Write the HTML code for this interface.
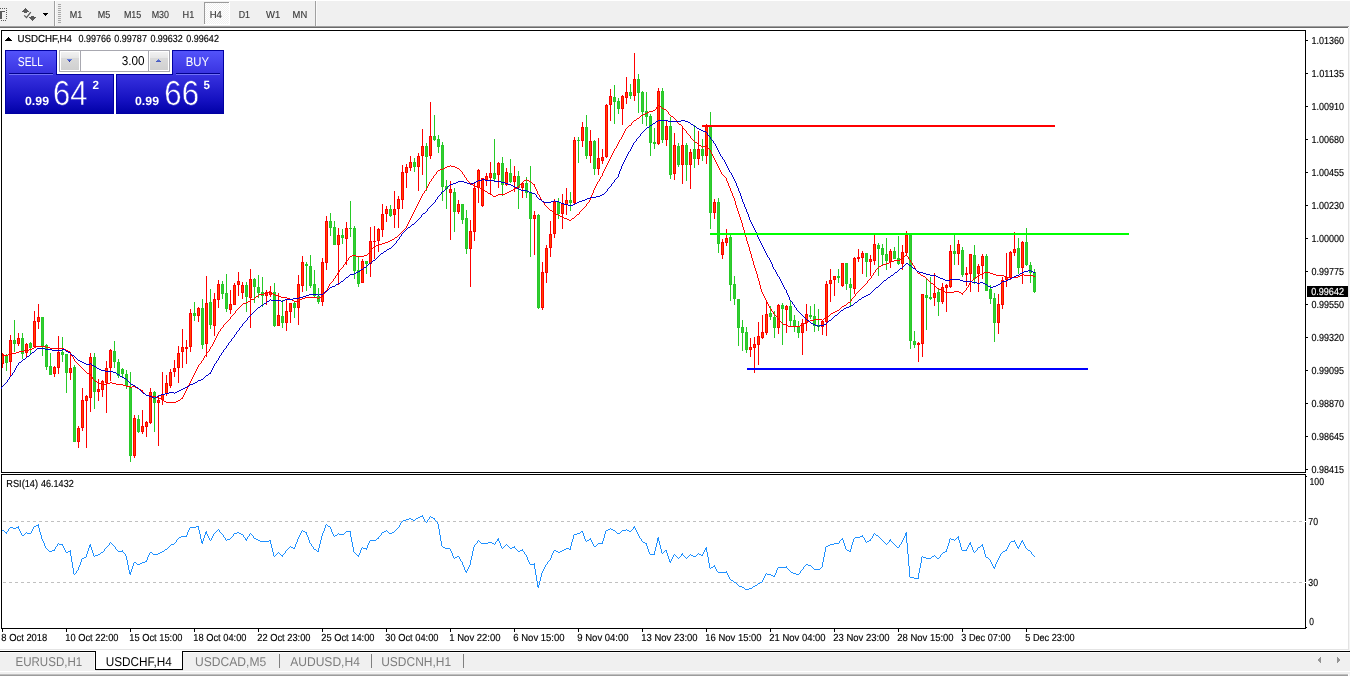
<!DOCTYPE html>
<html lang="en"><head><meta charset="utf-8"><title>USDCHF,H4</title>
<style>
html,body{margin:0;padding:0;background:#fff;overflow:hidden}
body{width:1350px;height:676px;font-family:"Liberation Sans",sans-serif}
svg{display:block;font-family:"Liberation Sans",sans-serif;text-rendering:geometricPrecision}
svg rect,svg polygon{shape-rendering:crispEdges}
</style></head><body>
<svg width="1350" height="676" viewBox="0 0 1350 676">
<rect x="0" y="0" width="1350" height="676" fill="#ffffff" />
<rect x="0" y="1" width="1350" height="25" fill="#f0f0f0" />
<rect x="0" y="26" width="1349" height="1" fill="#a0a0a0" />
<rect x="0" y="27" width="1348" height="1" fill="#696969" />
<rect x="1348" y="28" width="1" height="622" fill="#e3e3e3" />
<rect x="1349" y="26" width="1" height="650" fill="#f4f4f4" />
<rect x="0" y="11" width="5" height="1" fill="#5a5a5a" />
<rect x="0" y="12" width="2" height="7" fill="#5a5a5a" />
<rect x="0" y="8" width="1" height="1" fill="#5a5a5a" />
<rect x="2" y="8" width="1" height="1" fill="#5a5a5a" />
<rect x="4" y="8" width="1" height="1" fill="#5a5a5a" />
<rect x="6" y="8" width="1" height="1" fill="#5a5a5a" />
<rect x="6" y="10" width="1" height="1" fill="#5a5a5a" />
<rect x="6" y="12" width="1" height="1" fill="#5a5a5a" />
<rect x="6" y="14" width="1" height="1" fill="#5a5a5a" />
<rect x="6" y="16" width="1" height="1" fill="#5a5a5a" />
<rect x="6" y="18" width="1" height="1" fill="#5a5a5a" />
<rect x="1" y="20" width="1" height="1" fill="#5a5a5a" />
<rect x="3" y="20" width="1" height="1" fill="#5a5a5a" />
<rect x="5" y="20" width="1" height="1" fill="#5a5a5a" />
<rect x="25" y="8" width="1" height="1" fill="#5a5a5a" />
<rect x="29" y="17" width="7" height="1" fill="#5a5a5a" />
<rect x="24" y="9" width="3" height="1" fill="#5a5a5a" />
<rect x="30" y="18" width="5" height="1" fill="#5a5a5a" />
<rect x="23" y="10" width="5" height="1" fill="#5a5a5a" />
<rect x="31" y="19" width="3" height="1" fill="#5a5a5a" />
<rect x="22" y="11" width="7" height="1" fill="#5a5a5a" />
<rect x="32" y="20" width="1" height="1" fill="#5a5a5a" />
<rect x="24" y="12" width="3" height="1" fill="#5a5a5a" />
<rect x="31" y="16" width="3" height="1" fill="#5a5a5a" />
<path d="M24.2 15.4 L26.5 17.6 L30.8 12.2" fill="none" stroke="#5a5a5a" stroke-width="1.3"/>
<rect x="43" y="13" width="5" height="1" fill="#000" />
<rect x="44" y="14" width="3" height="1" fill="#000" />
<rect x="45" y="15" width="1" height="1" fill="#000" />
<rect x="54" y="1" width="1" height="25" fill="#a0a0a0" />
<rect x="55" y="1" width="1" height="25" fill="#fafafa" />
<rect x="315" y="1" width="1" height="25" fill="#a0a0a0" />
<rect x="316" y="1" width="1" height="25" fill="#fafafa" />
<rect x="58" y="4" width="3" height="1" fill="#a8a8a8" />
<rect x="58" y="6" width="3" height="1" fill="#a8a8a8" />
<rect x="58" y="8" width="3" height="1" fill="#a8a8a8" />
<rect x="58" y="10" width="3" height="1" fill="#a8a8a8" />
<rect x="58" y="12" width="3" height="1" fill="#a8a8a8" />
<rect x="58" y="14" width="3" height="1" fill="#a8a8a8" />
<rect x="58" y="16" width="3" height="1" fill="#a8a8a8" />
<rect x="58" y="18" width="3" height="1" fill="#a8a8a8" />
<rect x="58" y="20" width="3" height="1" fill="#a8a8a8" />
<rect x="58" y="22" width="3" height="1" fill="#a8a8a8" />
<defs><pattern id="ck" x="205" y="3" width="2" height="2" patternUnits="userSpaceOnUse"><rect width="2" height="2" fill="#ffffff"/><rect width="1" height="1" fill="#f0f0f0"/><rect x="1" y="1" width="1" height="1" fill="#f0f0f0"/></pattern></defs>
<rect x="205" y="3" width="24" height="21" fill="url(#ck)" />
<rect x="204" y="2" width="25" height="1" fill="#9a9a9a" />
<rect x="204" y="2" width="1" height="22" fill="#9a9a9a" />
<rect x="204" y="24" width="26" height="1" fill="#ffffff" />
<rect x="229" y="2" width="1" height="23" fill="#ffffff" />
<text x="69.7" y="18" font-size="10.2" fill="#3a3a3a" stroke="#3a3a3a" stroke-width="0.15" textLength="12.5" lengthAdjust="spacingAndGlyphs">M1</text>
<text x="97.7" y="18" font-size="10.2" fill="#3a3a3a" stroke="#3a3a3a" stroke-width="0.15" textLength="12.5" lengthAdjust="spacingAndGlyphs">M5</text>
<text x="123.9" y="18" font-size="10.2" fill="#3a3a3a" stroke="#3a3a3a" stroke-width="0.15" textLength="17.4" lengthAdjust="spacingAndGlyphs">M15</text>
<text x="151.7" y="18" font-size="10.2" fill="#3a3a3a" stroke="#3a3a3a" stroke-width="0.15" textLength="17.3" lengthAdjust="spacingAndGlyphs">M30</text>
<text x="182.6" y="18" font-size="10.2" fill="#3a3a3a" stroke="#3a3a3a" stroke-width="0.15" textLength="11.7" lengthAdjust="spacingAndGlyphs">H1</text>
<text x="209.7" y="18" font-size="10.2" fill="#3a3a3a" stroke="#3a3a3a" stroke-width="0.15" textLength="12.2" lengthAdjust="spacingAndGlyphs">H4</text>
<text x="238.7" y="18" font-size="10.2" fill="#3a3a3a" stroke="#3a3a3a" stroke-width="0.15" textLength="11.3" lengthAdjust="spacingAndGlyphs">D1</text>
<text x="266" y="18" font-size="10.2" fill="#3a3a3a" stroke="#3a3a3a" stroke-width="0.15" textLength="14.2" lengthAdjust="spacingAndGlyphs">W1</text>
<text x="292.6" y="18" font-size="10.2" fill="#3a3a3a" stroke="#3a3a3a" stroke-width="0.15" textLength="14.6" lengthAdjust="spacingAndGlyphs">MN</text>
<rect x="1" y="30" width="1305" height="1" fill="#000000" />
<rect x="1" y="30" width="1" height="443" fill="#000000" />
<rect x="1305" y="30" width="1" height="443" fill="#000000" />
<rect x="1" y="472" width="1305" height="1" fill="#000000" />
<rect x="1" y="474" width="1305" height="1" fill="#000000" />
<rect x="1" y="474" width="1" height="155" fill="#000000" />
<rect x="1305" y="474" width="1" height="155" fill="#000000" />
<rect x="1" y="628" width="1305" height="1" fill="#000000" />
<rect x="1306" y="40" width="2" height="1" fill="#000000" />
<text x="1311.5" y="44" font-size="10.2" fill="#000000" stroke="#000000" stroke-width="0.15" textLength="32.5" lengthAdjust="spacingAndGlyphs">1.01360</text>
<rect x="1306" y="73" width="2" height="1" fill="#000000" />
<text x="1311.5" y="77" font-size="10.2" fill="#000000" stroke="#000000" stroke-width="0.15" textLength="32.5" lengthAdjust="spacingAndGlyphs">1.01135</text>
<rect x="1306" y="106" width="2" height="1" fill="#000000" />
<text x="1311.5" y="110" font-size="10.2" fill="#000000" stroke="#000000" stroke-width="0.15" textLength="32.5" lengthAdjust="spacingAndGlyphs">1.00910</text>
<rect x="1306" y="139" width="2" height="1" fill="#000000" />
<text x="1311.5" y="143" font-size="10.2" fill="#000000" stroke="#000000" stroke-width="0.15" textLength="32.5" lengthAdjust="spacingAndGlyphs">1.00680</text>
<rect x="1306" y="172" width="2" height="1" fill="#000000" />
<text x="1311.5" y="176" font-size="10.2" fill="#000000" stroke="#000000" stroke-width="0.15" textLength="32.5" lengthAdjust="spacingAndGlyphs">1.00455</text>
<rect x="1306" y="205" width="2" height="1" fill="#000000" />
<text x="1311.5" y="209" font-size="10.2" fill="#000000" stroke="#000000" stroke-width="0.15" textLength="32.5" lengthAdjust="spacingAndGlyphs">1.00230</text>
<rect x="1306" y="238" width="2" height="1" fill="#000000" />
<text x="1311.5" y="242" font-size="10.2" fill="#000000" stroke="#000000" stroke-width="0.15" textLength="32.5" lengthAdjust="spacingAndGlyphs">1.00000</text>
<rect x="1306" y="271" width="2" height="1" fill="#000000" />
<text x="1311.5" y="275" font-size="10.2" fill="#000000" stroke="#000000" stroke-width="0.15" textLength="32.5" lengthAdjust="spacingAndGlyphs">0.99775</text>
<rect x="1306" y="304" width="2" height="1" fill="#000000" />
<text x="1311.5" y="308" font-size="10.2" fill="#000000" stroke="#000000" stroke-width="0.15" textLength="32.5" lengthAdjust="spacingAndGlyphs">0.99550</text>
<rect x="1306" y="337" width="2" height="1" fill="#000000" />
<text x="1311.5" y="341" font-size="10.2" fill="#000000" stroke="#000000" stroke-width="0.15" textLength="32.5" lengthAdjust="spacingAndGlyphs">0.99320</text>
<rect x="1306" y="370" width="2" height="1" fill="#000000" />
<text x="1311.5" y="374" font-size="10.2" fill="#000000" stroke="#000000" stroke-width="0.15" textLength="32.5" lengthAdjust="spacingAndGlyphs">0.99095</text>
<rect x="1306" y="403" width="2" height="1" fill="#000000" />
<text x="1311.5" y="407" font-size="10.2" fill="#000000" stroke="#000000" stroke-width="0.15" textLength="32.5" lengthAdjust="spacingAndGlyphs">0.98870</text>
<rect x="1306" y="436" width="2" height="1" fill="#000000" />
<text x="1311.5" y="440" font-size="10.2" fill="#000000" stroke="#000000" stroke-width="0.15" textLength="32.5" lengthAdjust="spacingAndGlyphs">0.98645</text>
<rect x="1306" y="469" width="2" height="1" fill="#000000" />
<text x="1311.5" y="473" font-size="10.2" fill="#000000" stroke="#000000" stroke-width="0.15" textLength="32.5" lengthAdjust="spacingAndGlyphs">0.98415</text>
<rect x="1307" y="286" width="41" height="11" fill="#000000" />
<text x="1311.2" y="295" font-size="10.2" fill="#fff" stroke="#fff" stroke-width="0.15" textLength="32.8" lengthAdjust="spacingAndGlyphs">0.99642</text>
<rect x="1306" y="476" width="1" height="1" fill="#000000" />
<text x="1309.5" y="485" font-size="10.2" fill="#000000" stroke="#000000" stroke-width="0.15" textLength="14.5" lengthAdjust="spacingAndGlyphs">100</text>
<text x="1308.3" y="525" font-size="10.2" fill="#000000" stroke="#000000" stroke-width="0.15" textLength="9.7" lengthAdjust="spacingAndGlyphs">70</text>
<text x="1308.3" y="586" font-size="10.2" fill="#000000" stroke="#000000" stroke-width="0.15" textLength="9.7" lengthAdjust="spacingAndGlyphs">30</text>
<text x="1309.3" y="625" font-size="10.2" fill="#000000" stroke="#000000" stroke-width="0.15" textLength="4.7" lengthAdjust="spacingAndGlyphs">0</text>
<rect x="1306" y="627" width="1" height="1" fill="#000000" />
<path d="M3 521h3v1h-3zM9 521h3v1h-3zM15 521h3v1h-3zM21 521h3v1h-3zM27 521h3v1h-3zM33 521h3v1h-3zM39 521h3v1h-3zM45 521h3v1h-3zM51 521h3v1h-3zM57 521h3v1h-3zM63 521h3v1h-3zM69 521h3v1h-3zM75 521h3v1h-3zM81 521h3v1h-3zM87 521h3v1h-3zM93 521h3v1h-3zM99 521h3v1h-3zM105 521h3v1h-3zM111 521h3v1h-3zM117 521h3v1h-3zM123 521h3v1h-3zM129 521h3v1h-3zM135 521h3v1h-3zM141 521h3v1h-3zM147 521h3v1h-3zM153 521h3v1h-3zM159 521h3v1h-3zM165 521h3v1h-3zM171 521h3v1h-3zM177 521h3v1h-3zM183 521h3v1h-3zM189 521h3v1h-3zM195 521h3v1h-3zM201 521h3v1h-3zM207 521h3v1h-3zM213 521h3v1h-3zM219 521h3v1h-3zM225 521h3v1h-3zM231 521h3v1h-3zM237 521h3v1h-3zM243 521h3v1h-3zM249 521h3v1h-3zM255 521h3v1h-3zM261 521h3v1h-3zM267 521h3v1h-3zM273 521h3v1h-3zM279 521h3v1h-3zM285 521h3v1h-3zM291 521h3v1h-3zM297 521h3v1h-3zM303 521h3v1h-3zM309 521h3v1h-3zM315 521h3v1h-3zM321 521h3v1h-3zM327 521h3v1h-3zM333 521h3v1h-3zM339 521h3v1h-3zM345 521h3v1h-3zM351 521h3v1h-3zM357 521h3v1h-3zM363 521h3v1h-3zM369 521h3v1h-3zM375 521h3v1h-3zM381 521h3v1h-3zM387 521h3v1h-3zM393 521h3v1h-3zM399 521h3v1h-3zM405 521h3v1h-3zM411 521h3v1h-3zM417 521h3v1h-3zM423 521h3v1h-3zM429 521h3v1h-3zM435 521h3v1h-3zM441 521h3v1h-3zM447 521h3v1h-3zM453 521h3v1h-3zM459 521h3v1h-3zM465 521h3v1h-3zM471 521h3v1h-3zM477 521h3v1h-3zM483 521h3v1h-3zM489 521h3v1h-3zM495 521h3v1h-3zM501 521h3v1h-3zM507 521h3v1h-3zM513 521h3v1h-3zM519 521h3v1h-3zM525 521h3v1h-3zM531 521h3v1h-3zM537 521h3v1h-3zM543 521h3v1h-3zM549 521h3v1h-3zM555 521h3v1h-3zM561 521h3v1h-3zM567 521h3v1h-3zM573 521h3v1h-3zM579 521h3v1h-3zM585 521h3v1h-3zM591 521h3v1h-3zM597 521h3v1h-3zM603 521h3v1h-3zM609 521h3v1h-3zM615 521h3v1h-3zM621 521h3v1h-3zM627 521h3v1h-3zM633 521h3v1h-3zM639 521h3v1h-3zM645 521h3v1h-3zM651 521h3v1h-3zM657 521h3v1h-3zM663 521h3v1h-3zM669 521h3v1h-3zM675 521h3v1h-3zM681 521h3v1h-3zM687 521h3v1h-3zM693 521h3v1h-3zM699 521h3v1h-3zM705 521h3v1h-3zM711 521h3v1h-3zM717 521h3v1h-3zM723 521h3v1h-3zM729 521h3v1h-3zM735 521h3v1h-3zM741 521h3v1h-3zM747 521h3v1h-3zM753 521h3v1h-3zM759 521h3v1h-3zM765 521h3v1h-3zM771 521h3v1h-3zM777 521h3v1h-3zM783 521h3v1h-3zM789 521h3v1h-3zM795 521h3v1h-3zM801 521h3v1h-3zM807 521h3v1h-3zM813 521h3v1h-3zM819 521h3v1h-3zM825 521h3v1h-3zM831 521h3v1h-3zM837 521h3v1h-3zM843 521h3v1h-3zM849 521h3v1h-3zM855 521h3v1h-3zM861 521h3v1h-3zM867 521h3v1h-3zM873 521h3v1h-3zM879 521h3v1h-3zM885 521h3v1h-3zM891 521h3v1h-3zM897 521h3v1h-3zM903 521h3v1h-3zM909 521h3v1h-3zM915 521h3v1h-3zM921 521h3v1h-3zM927 521h3v1h-3zM933 521h3v1h-3zM939 521h3v1h-3zM945 521h3v1h-3zM951 521h3v1h-3zM957 521h3v1h-3zM963 521h3v1h-3zM969 521h3v1h-3zM975 521h3v1h-3zM981 521h3v1h-3zM987 521h3v1h-3zM993 521h3v1h-3zM999 521h3v1h-3zM1005 521h3v1h-3zM1011 521h3v1h-3zM1017 521h3v1h-3zM1023 521h3v1h-3zM1029 521h3v1h-3zM1035 521h3v1h-3zM1041 521h3v1h-3zM1047 521h3v1h-3zM1053 521h3v1h-3zM1059 521h3v1h-3zM1065 521h3v1h-3zM1071 521h3v1h-3zM1077 521h3v1h-3zM1083 521h3v1h-3zM1089 521h3v1h-3zM1095 521h3v1h-3zM1101 521h3v1h-3zM1107 521h3v1h-3zM1113 521h3v1h-3zM1119 521h3v1h-3zM1125 521h3v1h-3zM1131 521h3v1h-3zM1137 521h3v1h-3zM1143 521h3v1h-3zM1149 521h3v1h-3zM1155 521h3v1h-3zM1161 521h3v1h-3zM1167 521h3v1h-3zM1173 521h3v1h-3zM1179 521h3v1h-3zM1185 521h3v1h-3zM1191 521h3v1h-3zM1197 521h3v1h-3zM1203 521h3v1h-3zM1209 521h3v1h-3zM1215 521h3v1h-3zM1221 521h3v1h-3zM1227 521h3v1h-3zM1233 521h3v1h-3zM1239 521h3v1h-3zM1245 521h3v1h-3zM1251 521h3v1h-3zM1257 521h3v1h-3zM1263 521h3v1h-3zM1269 521h3v1h-3zM1275 521h3v1h-3zM1281 521h3v1h-3zM1287 521h3v1h-3zM1293 521h3v1h-3zM1299 521h3v1h-3z" fill="#c0c0c0" shape-rendering="crispEdges"/>
<rect x="1305" y="521" width="1" height="1" fill="#fff" />
<path d="M3 582h3v1h-3zM9 582h3v1h-3zM15 582h3v1h-3zM21 582h3v1h-3zM27 582h3v1h-3zM33 582h3v1h-3zM39 582h3v1h-3zM45 582h3v1h-3zM51 582h3v1h-3zM57 582h3v1h-3zM63 582h3v1h-3zM69 582h3v1h-3zM75 582h3v1h-3zM81 582h3v1h-3zM87 582h3v1h-3zM93 582h3v1h-3zM99 582h3v1h-3zM105 582h3v1h-3zM111 582h3v1h-3zM117 582h3v1h-3zM123 582h3v1h-3zM129 582h3v1h-3zM135 582h3v1h-3zM141 582h3v1h-3zM147 582h3v1h-3zM153 582h3v1h-3zM159 582h3v1h-3zM165 582h3v1h-3zM171 582h3v1h-3zM177 582h3v1h-3zM183 582h3v1h-3zM189 582h3v1h-3zM195 582h3v1h-3zM201 582h3v1h-3zM207 582h3v1h-3zM213 582h3v1h-3zM219 582h3v1h-3zM225 582h3v1h-3zM231 582h3v1h-3zM237 582h3v1h-3zM243 582h3v1h-3zM249 582h3v1h-3zM255 582h3v1h-3zM261 582h3v1h-3zM267 582h3v1h-3zM273 582h3v1h-3zM279 582h3v1h-3zM285 582h3v1h-3zM291 582h3v1h-3zM297 582h3v1h-3zM303 582h3v1h-3zM309 582h3v1h-3zM315 582h3v1h-3zM321 582h3v1h-3zM327 582h3v1h-3zM333 582h3v1h-3zM339 582h3v1h-3zM345 582h3v1h-3zM351 582h3v1h-3zM357 582h3v1h-3zM363 582h3v1h-3zM369 582h3v1h-3zM375 582h3v1h-3zM381 582h3v1h-3zM387 582h3v1h-3zM393 582h3v1h-3zM399 582h3v1h-3zM405 582h3v1h-3zM411 582h3v1h-3zM417 582h3v1h-3zM423 582h3v1h-3zM429 582h3v1h-3zM435 582h3v1h-3zM441 582h3v1h-3zM447 582h3v1h-3zM453 582h3v1h-3zM459 582h3v1h-3zM465 582h3v1h-3zM471 582h3v1h-3zM477 582h3v1h-3zM483 582h3v1h-3zM489 582h3v1h-3zM495 582h3v1h-3zM501 582h3v1h-3zM507 582h3v1h-3zM513 582h3v1h-3zM519 582h3v1h-3zM525 582h3v1h-3zM531 582h3v1h-3zM537 582h3v1h-3zM543 582h3v1h-3zM549 582h3v1h-3zM555 582h3v1h-3zM561 582h3v1h-3zM567 582h3v1h-3zM573 582h3v1h-3zM579 582h3v1h-3zM585 582h3v1h-3zM591 582h3v1h-3zM597 582h3v1h-3zM603 582h3v1h-3zM609 582h3v1h-3zM615 582h3v1h-3zM621 582h3v1h-3zM627 582h3v1h-3zM633 582h3v1h-3zM639 582h3v1h-3zM645 582h3v1h-3zM651 582h3v1h-3zM657 582h3v1h-3zM663 582h3v1h-3zM669 582h3v1h-3zM675 582h3v1h-3zM681 582h3v1h-3zM687 582h3v1h-3zM693 582h3v1h-3zM699 582h3v1h-3zM705 582h3v1h-3zM711 582h3v1h-3zM717 582h3v1h-3zM723 582h3v1h-3zM729 582h3v1h-3zM735 582h3v1h-3zM741 582h3v1h-3zM747 582h3v1h-3zM753 582h3v1h-3zM759 582h3v1h-3zM765 582h3v1h-3zM771 582h3v1h-3zM777 582h3v1h-3zM783 582h3v1h-3zM789 582h3v1h-3zM795 582h3v1h-3zM801 582h3v1h-3zM807 582h3v1h-3zM813 582h3v1h-3zM819 582h3v1h-3zM825 582h3v1h-3zM831 582h3v1h-3zM837 582h3v1h-3zM843 582h3v1h-3zM849 582h3v1h-3zM855 582h3v1h-3zM861 582h3v1h-3zM867 582h3v1h-3zM873 582h3v1h-3zM879 582h3v1h-3zM885 582h3v1h-3zM891 582h3v1h-3zM897 582h3v1h-3zM903 582h3v1h-3zM909 582h3v1h-3zM915 582h3v1h-3zM921 582h3v1h-3zM927 582h3v1h-3zM933 582h3v1h-3zM939 582h3v1h-3zM945 582h3v1h-3zM951 582h3v1h-3zM957 582h3v1h-3zM963 582h3v1h-3zM969 582h3v1h-3zM975 582h3v1h-3zM981 582h3v1h-3zM987 582h3v1h-3zM993 582h3v1h-3zM999 582h3v1h-3zM1005 582h3v1h-3zM1011 582h3v1h-3zM1017 582h3v1h-3zM1023 582h3v1h-3zM1029 582h3v1h-3zM1035 582h3v1h-3zM1041 582h3v1h-3zM1047 582h3v1h-3zM1053 582h3v1h-3zM1059 582h3v1h-3zM1065 582h3v1h-3zM1071 582h3v1h-3zM1077 582h3v1h-3zM1083 582h3v1h-3zM1089 582h3v1h-3zM1095 582h3v1h-3zM1101 582h3v1h-3zM1107 582h3v1h-3zM1113 582h3v1h-3zM1119 582h3v1h-3zM1125 582h3v1h-3zM1131 582h3v1h-3zM1137 582h3v1h-3zM1143 582h3v1h-3zM1149 582h3v1h-3zM1155 582h3v1h-3zM1161 582h3v1h-3zM1167 582h3v1h-3zM1173 582h3v1h-3zM1179 582h3v1h-3zM1185 582h3v1h-3zM1191 582h3v1h-3zM1197 582h3v1h-3zM1203 582h3v1h-3zM1209 582h3v1h-3zM1215 582h3v1h-3zM1221 582h3v1h-3zM1227 582h3v1h-3zM1233 582h3v1h-3zM1239 582h3v1h-3zM1245 582h3v1h-3zM1251 582h3v1h-3zM1257 582h3v1h-3zM1263 582h3v1h-3zM1269 582h3v1h-3zM1275 582h3v1h-3zM1281 582h3v1h-3zM1287 582h3v1h-3zM1293 582h3v1h-3zM1299 582h3v1h-3z" fill="#c0c0c0" shape-rendering="crispEdges"/>
<rect x="1305" y="582" width="1" height="1" fill="#fff" />
<rect x="2" y="629" width="1" height="3" fill="#000000" />
<text x="1.3" y="641" font-size="10.2" fill="#000000" stroke="#000000" stroke-width="0.15" textLength="46.0" lengthAdjust="spacingAndGlyphs">8 Oct 2018</text>
<rect x="66" y="629" width="1" height="3" fill="#000000" />
<text x="65.3" y="641" font-size="10.2" fill="#000000" stroke="#000000" stroke-width="0.15" textLength="53.2" lengthAdjust="spacingAndGlyphs">10 Oct 22:00</text>
<rect x="130" y="629" width="1" height="3" fill="#000000" />
<text x="129.3" y="641" font-size="10.2" fill="#000000" stroke="#000000" stroke-width="0.15" textLength="53.2" lengthAdjust="spacingAndGlyphs">15 Oct 15:00</text>
<rect x="194" y="629" width="1" height="3" fill="#000000" />
<text x="193.3" y="641" font-size="10.2" fill="#000000" stroke="#000000" stroke-width="0.15" textLength="53.2" lengthAdjust="spacingAndGlyphs">18 Oct 04:00</text>
<rect x="258" y="629" width="1" height="3" fill="#000000" />
<text x="257.3" y="641" font-size="10.2" fill="#000000" stroke="#000000" stroke-width="0.15" textLength="53.2" lengthAdjust="spacingAndGlyphs">22 Oct 23:00</text>
<rect x="322" y="629" width="1" height="3" fill="#000000" />
<text x="321.3" y="641" font-size="10.2" fill="#000000" stroke="#000000" stroke-width="0.15" textLength="53.2" lengthAdjust="spacingAndGlyphs">25 Oct 14:00</text>
<rect x="386" y="629" width="1" height="3" fill="#000000" />
<text x="385.3" y="641" font-size="10.2" fill="#000000" stroke="#000000" stroke-width="0.15" textLength="53.2" lengthAdjust="spacingAndGlyphs">30 Oct 04:00</text>
<rect x="450" y="629" width="1" height="3" fill="#000000" />
<text x="449.3" y="641" font-size="10.2" fill="#000000" stroke="#000000" stroke-width="0.15" textLength="51.3" lengthAdjust="spacingAndGlyphs">1 Nov 22:00</text>
<rect x="514" y="629" width="1" height="3" fill="#000000" />
<text x="513.3" y="641" font-size="10.2" fill="#000000" stroke="#000000" stroke-width="0.15" textLength="51.3" lengthAdjust="spacingAndGlyphs">6 Nov 15:00</text>
<rect x="578" y="629" width="1" height="3" fill="#000000" />
<text x="577.3" y="641" font-size="10.2" fill="#000000" stroke="#000000" stroke-width="0.15" textLength="51.3" lengthAdjust="spacingAndGlyphs">9 Nov 04:00</text>
<rect x="642" y="629" width="1" height="3" fill="#000000" />
<text x="641.3" y="641" font-size="10.2" fill="#000000" stroke="#000000" stroke-width="0.15" textLength="56.3" lengthAdjust="spacingAndGlyphs">13 Nov 23:00</text>
<rect x="706" y="629" width="1" height="3" fill="#000000" />
<text x="705.3" y="641" font-size="10.2" fill="#000000" stroke="#000000" stroke-width="0.15" textLength="56.3" lengthAdjust="spacingAndGlyphs">16 Nov 15:00</text>
<rect x="770" y="629" width="1" height="3" fill="#000000" />
<text x="769.3" y="641" font-size="10.2" fill="#000000" stroke="#000000" stroke-width="0.15" textLength="56.3" lengthAdjust="spacingAndGlyphs">21 Nov 04:00</text>
<rect x="834" y="629" width="1" height="3" fill="#000000" />
<text x="833.3" y="641" font-size="10.2" fill="#000000" stroke="#000000" stroke-width="0.15" textLength="56.3" lengthAdjust="spacingAndGlyphs">23 Nov 23:00</text>
<rect x="898" y="629" width="1" height="3" fill="#000000" />
<text x="897.3" y="641" font-size="10.2" fill="#000000" stroke="#000000" stroke-width="0.15" textLength="56.3" lengthAdjust="spacingAndGlyphs">28 Nov 15:00</text>
<rect x="962" y="629" width="1" height="3" fill="#000000" />
<text x="961.3" y="641" font-size="10.2" fill="#000000" stroke="#000000" stroke-width="0.15" textLength="49.3" lengthAdjust="spacingAndGlyphs">3 Dec 07:00</text>
<rect x="1026" y="629" width="1" height="3" fill="#000000" />
<text x="1025.3" y="641" font-size="10.2" fill="#000000" stroke="#000000" stroke-width="0.15" textLength="49.3" lengthAdjust="spacingAndGlyphs">5 Dec 23:00</text>
<rect x="8" y="37" width="1" height="1" fill="#000000" />
<rect x="7" y="38" width="3" height="1" fill="#000000" />
<rect x="6" y="39" width="5" height="1" fill="#000000" />
<rect x="5" y="40" width="7" height="1" fill="#000000" />
<text x="17.5" y="42" font-size="10.2" fill="#000000" stroke="#000000" stroke-width="0.15" textLength="54.5" lengthAdjust="spacingAndGlyphs">USDCHF,H4</text>
<text x="78.5" y="42" font-size="10.2" fill="#000000" stroke="#000000" stroke-width="0.15" textLength="32.5" lengthAdjust="spacingAndGlyphs">0.99766</text>
<text x="114.3" y="42" font-size="10.2" fill="#000000" stroke="#000000" stroke-width="0.15" textLength="32.6" lengthAdjust="spacingAndGlyphs">0.99787</text>
<text x="150.4" y="42" font-size="10.2" fill="#000000" stroke="#000000" stroke-width="0.15" textLength="32.4" lengthAdjust="spacingAndGlyphs">0.99632</text>
<text x="186.3" y="42" font-size="10.2" fill="#000000" stroke="#000000" stroke-width="0.15" textLength="32.6" lengthAdjust="spacingAndGlyphs">0.99642</text>
<text x="6.3" y="487" font-size="10.2" fill="#000000" stroke="#000000" stroke-width="0.15" textLength="31.7" lengthAdjust="spacingAndGlyphs">RSI(14)</text>
<text x="41" y="487" font-size="10.2" fill="#000000" stroke="#000000" stroke-width="0.15" textLength="32.7" lengthAdjust="spacingAndGlyphs">46.1432</text>
<defs>
<linearGradient id="gp" gradientUnits="userSpaceOnUse" x1="0" y1="50" x2="0" y2="114"><stop offset="0" stop-color="#5454fb"/><stop offset="0.38" stop-color="#3832e0"/><stop offset="0.79" stop-color="#1410c0"/><stop offset="1" stop-color="#0000a6"/></linearGradient>
<linearGradient id="gs" gradientUnits="userSpaceOnUse" x1="0" y1="52" x2="0" y2="70"><stop offset="0" stop-color="#f2f2f2"/><stop offset="0.33" stop-color="#e6e6e6"/><stop offset="0.34" stop-color="#dadada"/><stop offset="1" stop-color="#d0d0d0"/></linearGradient>
</defs>
<rect x="5" y="50" width="52" height="25" fill="url(#gp)" />
<rect x="5" y="74" width="109" height="40" fill="url(#gp)" />
<rect x="5" y="50" width="52" height="1" fill="#0000a2" />
<rect x="5" y="50" width="1" height="64" fill="#0000a2" />
<rect x="56" y="50" width="1" height="25" fill="#0000a2" />
<rect x="56" y="74" width="58" height="1" fill="#0000a2" />
<rect x="113" y="74" width="1" height="40" fill="#0000a2" />
<rect x="5" y="113" width="109" height="1" fill="#0000a2" />
<rect x="172" y="50" width="52" height="25" fill="url(#gp)" />
<rect x="116" y="74" width="108" height="40" fill="url(#gp)" />
<rect x="172" y="50" width="52" height="1" fill="#0000a2" />
<rect x="223" y="50" width="1" height="64" fill="#0000a2" />
<rect x="172" y="50" width="1" height="25" fill="#0000a2" />
<rect x="116" y="74" width="57" height="1" fill="#0000a2" />
<rect x="116" y="74" width="1" height="40" fill="#0000a2" />
<rect x="116" y="113" width="108" height="1" fill="#0000a2" />
<rect x="9" y="73" width="44" height="1" fill="#00008c" />
<rect x="9" y="74" width="44" height="1" fill="#7272f6" />
<rect x="176" y="73" width="44" height="1" fill="#00008c" />
<rect x="176" y="74" width="44" height="1" fill="#7272f6" />
<rect x="59" y="50" width="111" height="22" fill="#a8a8b0" />
<rect x="60" y="51" width="109" height="20" fill="#ffffff" />
<rect x="61" y="52" width="18" height="18" fill="url(#gs)" />
<rect x="80" y="51" width="1" height="20" fill="#a8a8b0" />
<rect x="150" y="52" width="18" height="18" fill="url(#gs)" />
<rect x="148" y="51" width="1" height="20" fill="#a8a8b0" />
<rect x="67" y="59" width="5" height="1" fill="#6a84e0" />
<rect x="68" y="60" width="3" height="1" fill="#4a5cc0" />
<rect x="69" y="61" width="1" height="1" fill="#30389a" />
<rect x="158" y="59" width="1" height="1" fill="#6a84e0" />
<rect x="157" y="60" width="3" height="1" fill="#5a70d0" />
<rect x="156" y="61" width="5" height="1" fill="#4a5cc0" />
<text x="121.7" y="65" font-size="12.8" fill="#000000" stroke="#000000" stroke-width="0" textLength="22.9" lengthAdjust="spacingAndGlyphs">3.00</text>
<text x="17.8" y="66" font-size="12.8" fill="#fff" stroke="#fff" stroke-width="0" textLength="25.2" lengthAdjust="spacingAndGlyphs">SELL</text>
<text x="185.7" y="66" font-size="12.8" fill="#fff" stroke="#fff" stroke-width="0" textLength="23.3" lengthAdjust="spacingAndGlyphs">BUY</text>
<text x="25" y="105" font-size="12" fill="#fff" stroke="#fff" stroke-width="0" font-weight="bold" textLength="24.0" lengthAdjust="spacingAndGlyphs">0.99</text>
<text x="135" y="105" font-size="12" fill="#fff" stroke="#fff" stroke-width="0" font-weight="bold" textLength="24.0" lengthAdjust="spacingAndGlyphs">0.99</text>
<text x="53" y="105.2" font-size="34.9" fill="#fff" stroke="url(#gp)" stroke-width="0.5" textLength="34.5" lengthAdjust="spacingAndGlyphs">64</text>
<text x="164.3" y="105.2" font-size="34.9" fill="#fff" stroke="url(#gp)" stroke-width="0.5" textLength="34.7" lengthAdjust="spacingAndGlyphs">66</text>
<text x="92.4" y="89" font-size="12" fill="#fff" stroke="#fff" stroke-width="0" font-weight="bold" textLength="6.5" lengthAdjust="spacingAndGlyphs">2</text>
<text x="203.6" y="89" font-size="12" fill="#fff" stroke="#fff" stroke-width="0" font-weight="bold" textLength="6.4" lengthAdjust="spacingAndGlyphs">5</text>
<rect x="0" y="649" width="1348" height="1" fill="#e4e4e4" />
<rect x="0" y="652" width="1350" height="1" fill="#fcfcfc" />
<rect x="0" y="653" width="1350" height="18" fill="#f0f0f0" />
<rect x="0" y="651" width="1350" height="1" fill="#000000" />
<rect x="0" y="671" width="1350" height="1" fill="#ffffff" />
<rect x="0" y="672" width="1350" height="2" fill="#f0f0f0" />
<rect x="0" y="674" width="1348" height="1" fill="#c0c0c0" />
<rect x="0" y="675" width="1348" height="1" fill="#9c9c9c" />
<rect x="96" y="651" width="86" height="18" fill="#ffffff" />
<rect x="95" y="651" width="1" height="19" fill="#000000" />
<rect x="182" y="651" width="1" height="19" fill="#000000" />
<rect x="95" y="669" width="88" height="1" fill="#000000" />
<rect x="94" y="652" width="1" height="18" fill="#fbfbfb" />
<rect x="96" y="670" width="87" height="1" fill="#e2e2e2" />
<text x="15.5" y="666" font-size="12.8" fill="#7d7d7d" stroke="#7d7d7d" stroke-width="0" textLength="66.7" lengthAdjust="spacingAndGlyphs">EURUSD,H1</text>
<text x="105.7" y="666" font-size="12.8" fill="#000000" stroke="#000000" stroke-width="0" textLength="66.1" lengthAdjust="spacingAndGlyphs">USDCHF,H4</text>
<text x="195.1" y="666" font-size="12.8" fill="#7d7d7d" stroke="#7d7d7d" stroke-width="0" textLength="71.1" lengthAdjust="spacingAndGlyphs">USDCAD,M5</text>
<text x="290.2" y="666" font-size="12.8" fill="#7d7d7d" stroke="#7d7d7d" stroke-width="0" textLength="69.7" lengthAdjust="spacingAndGlyphs">AUDUSD,H4</text>
<text x="381.2" y="666" font-size="12.8" fill="#7d7d7d" stroke="#7d7d7d" stroke-width="0" textLength="70.0" lengthAdjust="spacingAndGlyphs">USDCNH,H1</text>
<rect x="279" y="654" width="1" height="14" fill="#808080" />
<rect x="371" y="654" width="1" height="14" fill="#808080" />
<rect x="463" y="654" width="1" height="14" fill="#808080" />
<rect x="1320" y="657" width="1" height="6" fill="#949494" />
<rect x="1319" y="658" width="1" height="4" fill="#949494" />
<rect x="1318" y="659" width="1" height="2" fill="#949494" />
<rect x="1337" y="657" width="1" height="6" fill="#949494" />
<rect x="1338" y="658" width="1" height="4" fill="#949494" />
<rect x="1339" y="659" width="1" height="2" fill="#949494" />
<path d="M2 353h1v15h-1zM2 354h2v10h-2zM10 335h1v41h-1zM9 340h3v22h-3zM18 333h1v13h-1zM17 338h3v6h-3zM26 343h1v14h-1zM25 344h3v9h-3zM34 311h1v37h-1zM33 321h3v26h-3zM38 304h1v25h-1zM37 317h3v5h-3zM54 366h1v11h-1zM53 367h3v7h-3zM58 336h1v38h-1zM57 352h3v16h-3zM70 352h1v28h-1zM69 368h3v5h-3zM78 426h1v22h-1zM77 428h3v14h-3zM82 388h1v43h-1zM81 400h3v28h-3zM86 395h1v53h-1zM85 396h3v5h-3zM90 353h1v59h-1zM89 357h3v41h-3zM98 379h1v22h-1zM97 389h3v3h-3zM102 380h1v17h-1zM101 381h3v9h-3zM106 361h1v52h-1zM105 368h3v15h-3zM110 349h1v32h-1zM109 350h3v18h-3zM134 415h1v43h-1zM133 418h3v38h-3zM142 410h1v24h-1zM141 426h3v6h-3zM146 421h1v16h-1zM145 422h3v5h-3zM150 388h1v36h-1zM149 392h3v31h-3zM158 395h1v51h-1zM157 400h3v3h-3zM162 372h1v33h-1zM161 394h3v6h-3zM166 375h1v21h-1zM165 383h3v11h-3zM170 369h1v19h-1zM169 372h3v14h-3zM174 360h1v17h-1zM173 368h3v4h-3zM178 346h1v37h-1zM177 353h3v15h-3zM182 329h1v39h-1zM181 347h3v5h-3zM186 340h1v24h-1zM185 347h3v2h-3zM190 309h1v43h-1zM189 313h3v34h-3zM198 307h1v15h-1zM197 308h3v8h-3zM206 276h1v81h-1zM205 303h3v41h-3zM214 293h1v43h-1zM213 299h3v27h-3zM218 280h1v28h-1zM217 284h3v16h-3zM230 290h1v24h-1zM229 304h3v6h-3zM234 283h1v22h-1zM233 285h3v20h-3zM238 272h1v24h-1zM237 281h3v4h-3zM242 282h1v17h-1zM241 285h3v8h-3zM250 269h1v59h-1zM249 279h3v19h-3zM266 290h1v15h-1zM265 293h3v3h-3zM270 286h1v11h-1zM269 292h3v3h-3zM278 293h1v33h-1zM277 315h3v11h-3zM286 300h1v31h-1zM285 311h3v12h-3zM290 303h1v20h-1zM289 303h3v9h-3zM298 275h1v50h-1zM297 284h3v24h-3zM302 256h1v36h-1zM301 262h3v24h-3zM322 258h1v48h-1zM321 262h3v40h-3zM326 216h1v54h-1zM325 221h3v42h-3zM338 228h1v57h-1zM337 235h3v10h-3zM346 222h1v43h-1zM345 228h3v11h-3zM362 259h1v24h-1zM361 261h3v22h-3zM370 227h1v50h-1zM369 241h3v23h-3zM374 226h1v33h-1zM373 241h3v1h-3zM378 228h1v24h-1zM377 229h3v12h-3zM382 204h1v33h-1zM381 214h3v16h-3zM386 206h1v16h-1zM385 209h3v5h-3zM394 191h1v37h-1zM393 209h3v6h-3zM398 196h1v32h-1zM397 199h3v10h-3zM402 165h1v44h-1zM401 172h3v28h-3zM406 164h1v24h-1zM405 167h3v6h-3zM410 156h1v15h-1zM409 162h3v6h-3zM418 153h1v38h-1zM417 156h3v11h-3zM422 129h1v46h-1zM421 146h3v10h-3zM430 102h1v57h-1zM429 136h3v20h-3zM450 181h1v59h-1zM449 189h3v4h-3zM458 200h1v14h-1zM457 204h3v8h-3zM470 220h1v67h-1zM469 231h3v18h-3zM474 182h1v59h-1zM473 188h3v44h-3zM478 169h1v34h-1zM477 170h3v18h-3zM482 178h1v29h-1zM481 178h3v28h-3zM486 173h1v13h-1zM485 176h3v4h-3zM490 162h1v32h-1zM489 173h3v5h-3zM498 162h1v26h-1zM497 163h3v12h-3zM506 168h1v18h-1zM505 172h3v13h-3zM514 166h1v26h-1zM513 176h3v6h-3zM522 182h1v16h-1zM521 183h3v5h-3zM534 211h1v44h-1zM533 215h3v4h-3zM542 262h1v48h-1zM541 272h3v36h-3zM546 245h1v38h-1zM545 248h3v25h-3zM550 221h1v36h-1zM549 234h3v14h-3zM554 199h1v39h-1zM553 202h3v32h-3zM562 194h1v35h-1zM561 204h3v10h-3zM566 188h1v27h-1zM565 200h3v5h-3zM574 137h1v67h-1zM573 140h3v63h-3zM582 122h1v25h-1zM581 127h3v14h-3zM590 130h1v33h-1zM589 141h3v15h-3zM598 138h1v37h-1zM597 158h3v11h-3zM602 149h1v15h-1zM601 157h3v4h-3zM606 104h1v54h-1zM605 105h3v52h-3zM610 89h1v32h-1zM609 96h3v9h-3zM622 95h1v30h-1zM621 96h3v13h-3zM626 77h1v27h-1zM625 92h3v6h-3zM634 53h1v48h-1zM633 79h3v17h-3zM658 88h1v57h-1zM657 91h3v53h-3zM666 121h1v25h-1zM665 126h3v14h-3zM674 133h1v47h-1zM673 145h3v29h-3zM682 126h1v58h-1zM681 145h3v20h-3zM690 149h1v40h-1zM689 152h3v13h-3zM698 131h1v34h-1zM697 149h3v10h-3zM706 124h1v40h-1zM705 126h3v30h-3zM714 199h1v20h-1zM713 202h3v11h-3zM722 239h1v20h-1zM721 242h3v13h-3zM726 229h1v17h-1zM725 238h3v5h-3zM750 338h1v19h-1zM749 347h3v3h-3zM754 337h1v36h-1zM753 344h3v4h-3zM758 322h1v43h-1zM757 336h3v9h-3zM762 315h1v24h-1zM761 332h3v6h-3zM766 301h1v34h-1zM765 314h3v19h-3zM778 304h1v30h-1zM777 305h3v23h-3zM786 305h1v28h-1zM785 306h3v4h-3zM802 319h1v36h-1zM801 323h3v10h-3zM806 304h1v27h-1zM805 314h3v9h-3zM822 320h1v15h-1zM821 321h3v6h-3zM826 281h1v55h-1zM825 284h3v38h-3zM830 269h1v33h-1zM829 280h3v4h-3zM834 276h1v20h-1zM833 276h3v4h-3zM842 263h1v24h-1zM841 263h3v23h-3zM854 257h1v37h-1zM853 258h3v31h-3zM858 249h1v13h-1zM857 257h3v2h-3zM862 251h1v23h-1zM861 253h3v5h-3zM870 255h1v21h-1zM869 259h3v3h-3zM874 235h1v30h-1zM873 244h3v17h-3zM890 249h1v19h-1zM889 251h3v11h-3zM902 245h1v25h-1zM901 252h3v12h-3zM906 231h1v24h-1zM905 235h3v18h-3zM918 342h1v20h-1zM917 343h3v2h-3zM922 294h1v63h-1zM921 294h3v50h-3zM934 273h1v33h-1zM933 293h3v5h-3zM942 283h1v21h-1zM941 287h3v15h-3zM946 284h1v28h-1zM945 285h3v3h-3zM950 245h1v43h-1zM949 251h3v36h-3zM958 240h1v25h-1zM957 244h3v10h-3zM966 267h1v19h-1zM965 273h3v2h-3zM970 254h1v38h-1zM969 254h3v20h-3zM978 264h1v28h-1zM977 266h3v8h-3zM982 254h1v25h-1zM981 256h3v10h-3zM998 294h1v40h-1zM997 304h3v19h-3zM1002 277h1v32h-1zM1001 280h3v25h-3zM1006 253h1v34h-1zM1005 277h3v3h-3zM1010 251h1v29h-1zM1009 252h3v26h-3zM1014 232h1v24h-1zM1013 249h3v4h-3zM1022 241h1v43h-1zM1021 242h3v26h-3z" fill="#ff0000" shape-rendering="crispEdges"/>
<path d="M2 355h1v8h-1zM10 341h1v20h-1zM18 339h1v4h-1zM26 345h1v7h-1zM34 322h1v24h-1zM38 318h1v3h-1zM54 368h1v5h-1zM58 353h1v14h-1zM70 369h1v3h-1zM78 429h1v12h-1zM82 401h1v26h-1zM86 397h1v3h-1zM90 358h1v39h-1zM98 390h1v1h-1zM102 382h1v7h-1zM106 369h1v13h-1zM110 351h1v16h-1zM134 419h1v36h-1zM142 427h1v4h-1zM146 423h1v3h-1zM150 393h1v29h-1zM158 401h1v1h-1zM162 395h1v4h-1zM166 384h1v9h-1zM170 373h1v12h-1zM174 369h1v2h-1zM178 354h1v13h-1zM182 348h1v3h-1zM190 314h1v32h-1zM198 309h1v6h-1zM206 304h1v39h-1zM214 300h1v25h-1zM218 285h1v14h-1zM230 305h1v4h-1zM234 286h1v18h-1zM238 282h1v2h-1zM242 286h1v6h-1zM250 280h1v17h-1zM266 294h1v1h-1zM270 293h1v1h-1zM278 316h1v9h-1zM286 312h1v10h-1zM290 304h1v7h-1zM298 285h1v22h-1zM302 263h1v22h-1zM322 263h1v38h-1zM326 222h1v40h-1zM338 236h1v8h-1zM346 229h1v9h-1zM362 262h1v20h-1zM370 242h1v21h-1zM378 230h1v10h-1zM382 215h1v14h-1zM386 210h1v3h-1zM394 210h1v4h-1zM398 200h1v8h-1zM402 173h1v26h-1zM406 168h1v4h-1zM410 163h1v4h-1zM418 157h1v9h-1zM422 147h1v8h-1zM430 137h1v18h-1zM450 190h1v2h-1zM458 205h1v6h-1zM470 232h1v16h-1zM474 189h1v42h-1zM478 171h1v16h-1zM482 179h1v26h-1zM486 177h1v2h-1zM490 174h1v3h-1zM498 164h1v10h-1zM506 173h1v11h-1zM514 177h1v4h-1zM522 184h1v3h-1zM534 216h1v2h-1zM542 273h1v34h-1zM546 249h1v23h-1zM550 235h1v12h-1zM554 203h1v30h-1zM562 205h1v8h-1zM566 201h1v3h-1zM574 141h1v61h-1zM582 128h1v12h-1zM590 142h1v13h-1zM598 159h1v9h-1zM602 158h1v2h-1zM606 106h1v50h-1zM610 97h1v7h-1zM622 97h1v11h-1zM626 93h1v4h-1zM634 80h1v15h-1zM658 92h1v51h-1zM666 127h1v12h-1zM674 146h1v27h-1zM682 146h1v18h-1zM690 153h1v11h-1zM698 150h1v8h-1zM706 127h1v28h-1zM714 203h1v9h-1zM722 243h1v11h-1zM726 239h1v3h-1zM750 348h1v1h-1zM754 345h1v2h-1zM758 337h1v7h-1zM762 333h1v4h-1zM766 315h1v17h-1zM778 306h1v21h-1zM786 307h1v2h-1zM802 324h1v8h-1zM806 315h1v7h-1zM822 322h1v4h-1zM826 285h1v36h-1zM830 281h1v2h-1zM834 277h1v2h-1zM842 264h1v21h-1zM854 259h1v29h-1zM862 254h1v3h-1zM870 260h1v1h-1zM874 245h1v15h-1zM890 252h1v9h-1zM902 253h1v10h-1zM906 236h1v16h-1zM922 295h1v48h-1zM934 294h1v3h-1zM942 288h1v13h-1zM946 286h1v1h-1zM950 252h1v34h-1zM958 245h1v8h-1zM970 255h1v18h-1zM978 267h1v6h-1zM982 257h1v8h-1zM998 305h1v17h-1zM1002 281h1v23h-1zM1006 278h1v1h-1zM1010 253h1v24h-1zM1014 250h1v2h-1zM1022 243h1v24h-1z" fill="#ff4500" shape-rendering="crispEdges"/>
<path d="M6 354h1v17h-1zM5 355h3v8h-3zM14 320h1v32h-1zM13 340h3v4h-3zM22 333h1v26h-1zM21 338h3v16h-3zM30 342h1v13h-1zM29 343h3v5h-3zM42 317h1v39h-1zM41 317h3v29h-3zM46 344h1v26h-1zM45 345h3v22h-3zM50 353h1v22h-1zM49 366h3v9h-3zM62 337h1v25h-1zM61 352h3v3h-3zM66 354h1v39h-1zM65 354h3v19h-3zM74 365h1v77h-1zM73 367h3v75h-3zM94 353h1v56h-1zM93 357h3v35h-3zM114 341h1v27h-1zM113 351h3v11h-3zM118 359h1v19h-1zM117 362h3v14h-3zM122 368h1v10h-1zM121 369h3v5h-3zM126 370h1v19h-1zM125 374h3v12h-3zM130 372h1v90h-1zM129 387h3v69h-3zM138 415h1v18h-1zM137 419h3v13h-3zM154 391h1v41h-1zM153 392h3v11h-3zM194 302h1v19h-1zM193 313h3v3h-3zM202 299h1v50h-1zM201 308h3v37h-3zM210 289h1v40h-1zM209 302h3v23h-3zM222 281h1v18h-1zM221 284h3v10h-3zM226 274h1v38h-1zM225 293h3v16h-3zM246 282h1v30h-1zM245 285h3v12h-3zM254 278h1v25h-1zM253 279h3v8h-3zM258 275h1v23h-1zM257 287h3v6h-3zM262 277h1v30h-1zM261 292h3v4h-3zM274 283h1v44h-1zM273 292h3v34h-3zM282 300h1v28h-1zM281 316h3v7h-3zM294 302h1v16h-1zM293 303h3v5h-3zM306 262h1v29h-1zM305 264h3v2h-3zM310 255h1v33h-1zM309 266h3v20h-3zM314 270h1v28h-1zM313 284h3v12h-3zM318 288h1v16h-1zM317 296h3v6h-3zM330 213h1v23h-1zM329 221h3v7h-3zM334 221h1v24h-1zM333 227h3v18h-3zM342 229h1v15h-1zM341 235h3v3h-3zM350 201h1v36h-1zM349 228h3v1h-3zM354 226h1v53h-1zM353 228h3v43h-3zM358 257h1v30h-1zM357 270h3v14h-3zM366 261h1v13h-1zM365 261h3v3h-3zM390 205h1v12h-1zM389 209h3v7h-3zM414 158h1v14h-1zM413 162h3v5h-3zM426 143h1v48h-1zM425 146h3v11h-3zM434 115h1v26h-1zM433 136h3v4h-3zM438 135h1v18h-1zM437 139h3v8h-3zM442 142h1v59h-1zM441 145h3v42h-3zM446 180h1v29h-1zM445 186h3v3h-3zM454 188h1v44h-1zM453 192h3v20h-3zM462 204h1v20h-1zM461 204h3v16h-3zM466 210h1v44h-1zM465 218h3v31h-3zM494 139h1v43h-1zM493 173h3v6h-3zM502 157h1v39h-1zM501 163h3v22h-3zM510 159h1v24h-1zM509 173h3v9h-3zM518 171h1v38h-1zM517 176h3v12h-3zM526 177h1v21h-1zM525 183h3v10h-3zM530 166h1v91h-1zM529 192h3v27h-3zM538 214h1v95h-1zM537 215h3v93h-3zM558 198h1v21h-1zM557 202h3v12h-3zM570 192h1v19h-1zM569 200h3v3h-3zM578 137h1v26h-1zM577 140h3v1h-3zM586 115h1v44h-1zM585 127h3v29h-3zM594 140h1v35h-1zM593 141h3v28h-3zM614 85h1v39h-1zM613 97h3v5h-3zM618 98h1v16h-1zM617 101h3v8h-3zM630 84h1v15h-1zM629 92h3v4h-3zM638 74h1v39h-1zM637 79h3v14h-3zM642 91h1v33h-1zM641 92h3v20h-3zM646 92h1v34h-1zM645 111h3v6h-3zM650 114h1v42h-1zM649 116h3v27h-3zM654 128h1v21h-1zM653 142h3v2h-3zM662 88h1v55h-1zM661 91h3v49h-3zM670 117h1v62h-1zM669 126h3v49h-3zM678 143h1v24h-1zM677 146h3v19h-3zM686 143h1v38h-1zM685 145h3v20h-3zM694 125h1v43h-1zM693 149h3v10h-3zM702 139h1v22h-1zM701 149h3v7h-3zM710 112h1v117h-1zM709 126h3v87h-3zM718 198h1v55h-1zM717 202h3v42h-3zM730 235h1v66h-1zM729 237h3v48h-3zM734 276h1v29h-1zM733 284h3v15h-3zM738 299h1v47h-1zM737 299h3v29h-3zM742 320h1v31h-1zM741 327h3v6h-3zM746 327h1v26h-1zM745 332h3v18h-3zM770 306h1v14h-1zM769 313h3v4h-3zM774 311h1v27h-1zM773 317h3v11h-3zM782 303h1v42h-1zM781 305h3v4h-3zM790 301h1v26h-1zM789 306h3v15h-3zM794 315h1v17h-1zM793 320h3v7h-3zM798 321h1v17h-1zM797 327h3v6h-3zM810 306h1v13h-1zM809 315h3v2h-3zM814 304h1v28h-1zM813 316h3v10h-3zM818 309h1v22h-1zM817 325h3v2h-3zM838 269h1v14h-1zM837 276h3v2h-3zM846 263h1v27h-1zM845 263h3v21h-3zM850 278h1v29h-1zM849 284h3v4h-3zM866 253h1v24h-1zM865 253h3v9h-3zM878 243h1v33h-1zM877 245h3v4h-3zM882 244h1v21h-1zM881 248h3v7h-3zM886 238h1v32h-1zM885 254h3v7h-3zM894 247h1v12h-1zM893 251h3v8h-3zM898 236h1v29h-1zM897 258h3v6h-3zM910 235h1v114h-1zM909 235h3v106h-3zM914 331h1v17h-1zM913 341h3v4h-3zM926 279h1v51h-1zM925 295h3v3h-3zM930 277h1v23h-1zM929 297h3v2h-3zM938 288h1v28h-1zM937 292h3v10h-3zM954 235h1v30h-1zM953 251h3v3h-3zM962 247h1v30h-1zM961 250h3v25h-3zM974 245h1v39h-1zM973 255h3v24h-3zM986 254h1v37h-1zM985 256h3v35h-3zM990 285h1v19h-1zM989 289h3v10h-3zM994 293h1v49h-1zM993 298h3v25h-3zM1018 238h1v36h-1zM1017 248h3v20h-3zM1026 228h1v38h-1zM1025 242h3v23h-3zM1030 262h1v21h-1zM1029 265h3v8h-3zM1034 269h1v24h-1zM1033 272h3v20h-3z" fill="#27c927" shape-rendering="crispEdges"/>
<path d="M6 356h1v6h-1zM14 341h1v2h-1zM22 339h1v14h-1zM30 344h1v3h-1zM42 318h1v27h-1zM46 346h1v20h-1zM50 367h1v7h-1zM62 353h1v1h-1zM66 355h1v17h-1zM74 368h1v73h-1zM94 358h1v33h-1zM114 352h1v9h-1zM118 363h1v12h-1zM122 370h1v3h-1zM126 375h1v10h-1zM130 388h1v67h-1zM138 420h1v11h-1zM154 393h1v9h-1zM194 314h1v1h-1zM202 309h1v35h-1zM210 303h1v21h-1zM222 285h1v8h-1zM226 294h1v14h-1zM246 286h1v10h-1zM254 280h1v6h-1zM258 288h1v4h-1zM262 293h1v2h-1zM274 293h1v32h-1zM282 317h1v5h-1zM294 304h1v3h-1zM310 267h1v18h-1zM314 285h1v10h-1zM318 297h1v4h-1zM330 222h1v5h-1zM334 228h1v16h-1zM342 236h1v1h-1zM354 229h1v41h-1zM358 271h1v12h-1zM366 262h1v1h-1zM390 210h1v5h-1zM414 163h1v3h-1zM426 147h1v9h-1zM434 137h1v2h-1zM438 140h1v6h-1zM442 146h1v40h-1zM446 187h1v1h-1zM454 193h1v18h-1zM462 205h1v14h-1zM466 219h1v29h-1zM494 174h1v4h-1zM502 164h1v20h-1zM510 174h1v7h-1zM518 177h1v10h-1zM526 184h1v8h-1zM530 193h1v25h-1zM538 216h1v91h-1zM558 203h1v10h-1zM570 201h1v1h-1zM586 128h1v27h-1zM594 142h1v26h-1zM614 98h1v3h-1zM618 102h1v6h-1zM630 93h1v2h-1zM638 80h1v12h-1zM642 93h1v18h-1zM646 112h1v4h-1zM650 117h1v25h-1zM662 92h1v47h-1zM670 127h1v47h-1zM678 147h1v17h-1zM686 146h1v18h-1zM694 150h1v8h-1zM702 150h1v5h-1zM710 127h1v85h-1zM718 203h1v40h-1zM730 238h1v46h-1zM734 285h1v13h-1zM738 300h1v27h-1zM742 328h1v4h-1zM746 333h1v16h-1zM770 314h1v2h-1zM774 318h1v9h-1zM782 306h1v2h-1zM790 307h1v13h-1zM794 321h1v5h-1zM798 328h1v4h-1zM814 317h1v8h-1zM846 264h1v19h-1zM850 285h1v2h-1zM866 254h1v7h-1zM878 246h1v2h-1zM882 249h1v5h-1zM886 255h1v5h-1zM894 252h1v6h-1zM898 259h1v4h-1zM910 236h1v104h-1zM914 342h1v2h-1zM926 296h1v1h-1zM938 293h1v8h-1zM954 252h1v1h-1zM962 251h1v23h-1zM974 256h1v22h-1zM986 257h1v33h-1zM990 290h1v8h-1zM994 299h1v23h-1zM1018 249h1v18h-1zM1026 243h1v21h-1zM1030 266h1v6h-1zM1034 273h1v18h-1z" fill="#32cd32" shape-rendering="crispEdges"/>
<path d="M2 355h6v1h-6zM8 354h4v1h-4zM12 353h4v1h-4zM16 352h3v1h-3zM19 351h5v1h-5zM24 350h5v1h-5zM29 349h3v1h-3zM32 348h2v1h-2zM34 347h2v1h-2zM36 346h10v1h-10zM46 347h4v1h-4zM50 348h14v1h-14zM64 349h2v1h-2zM66 350h2v1h-2zM68 351h2v1h-2zM70 352h1v2h-1zM71 354h1v2h-1zM72 356h1v1h-1zM73 357h1v2h-1zM74 359h1v2h-1zM75 361h1v1h-1zM76 362h1v1h-1zM77 363h1v1h-1zM78 364h1v1h-1zM79 365h1v1h-1zM80 366h1v1h-1zM81 367h1v1h-1zM82 368h1v1h-1zM83 369h1v1h-1zM84 370h1v1h-1zM85 371h1v1h-1zM86 372h1v1h-1zM87 373h2v1h-2zM89 374h1v1h-1zM90 374h1v2h-1zM91 376h1v1h-1zM92 377h1v2h-1zM93 379h1v1h-1zM94 380h1v1h-1zM95 381h2v1h-2zM97 382h1v1h-1zM98 383h3v1h-3zM101 384h5v1h-5zM106 383h4v1h-4zM110 382h2v1h-2zM112 383h4v1h-4zM116 384h7v1h-7zM123 385h3v1h-3zM126 386h4v1h-4zM130 387h2v1h-2zM132 386h3v1h-3zM135 387h2v1h-2zM137 388h2v1h-2zM139 389h2v1h-2zM141 390h1v1h-1zM142 390h1v2h-1zM143 392h1v1h-1zM144 393h1v1h-1zM145 394h1v1h-1zM146 395h6v1h-6zM152 396h4v1h-4zM156 397h3v1h-3zM159 398h2v1h-2zM161 399h2v1h-2zM163 400h1v1h-1zM164 401h2v1h-2zM166 402h10v1h-10zM176 401h2v1h-2zM178 400h2v1h-2zM180 399h1v1h-1zM181 398h1v1h-1zM182 397h1v2h-1zM183 395h1v2h-1zM184 393h1v2h-1zM185 391h1v2h-1zM186 389h1v2h-1zM187 387h1v2h-1zM188 385h1v2h-1zM189 383h1v2h-1zM190 381h1v2h-1zM191 379h1v2h-1zM192 377h1v2h-1zM193 375h1v2h-1zM194 373h1v2h-1zM195 371h1v2h-1zM196 369h1v2h-1zM197 367h1v2h-1zM198 365h1v2h-1zM199 364h1v1h-1zM200 363h1v1h-1zM201 361h1v2h-1zM202 360h1v1h-1zM203 358h1v2h-1zM204 356h1v2h-1zM205 355h1v1h-1zM206 353h1v2h-1zM207 352h1v1h-1zM208 351h1v1h-1zM209 349h1v2h-1zM210 347h1v2h-1zM211 346h1v1h-1zM212 344h1v2h-1zM213 342h1v2h-1zM214 340h1v2h-1zM215 338h1v2h-1zM216 336h1v2h-1zM217 334h1v2h-1zM218 332h1v2h-1zM219 331h1v1h-1zM220 329h1v2h-1zM221 328h1v1h-1zM222 327h1v1h-1zM223 325h1v2h-1zM224 324h1v1h-1zM225 323h1v1h-1zM226 322h1v1h-1zM227 321h1v1h-1zM228 320h1v1h-1zM229 319h1v1h-1zM230 317h1v2h-1zM231 316h1v1h-1zM232 315h1v1h-1zM233 314h1v1h-1zM234 313h1v1h-1zM235 311h1v2h-1zM236 310h1v1h-1zM237 309h1v1h-1zM238 308h1v1h-1zM239 307h1v1h-1zM240 306h1v1h-1zM241 305h1v1h-1zM242 304h1v1h-1zM243 303h3v1h-3zM246 302h2v1h-2zM248 301h2v1h-2zM250 300h1v1h-1zM251 299h3v1h-3zM254 298h1v1h-1zM255 297h1v1h-1zM256 296h2v1h-2zM258 295h1v1h-1zM259 294h5v1h-5zM264 293h1v1h-1zM265 292h4v1h-4zM269 291h2v1h-2zM271 292h1v1h-1zM272 293h1v1h-1zM273 294h2v1h-2zM275 295h3v1h-3zM278 296h3v1h-3zM281 297h6v1h-6zM287 298h3v1h-3zM290 299h2v1h-2zM292 300h2v1h-2zM294 301h5v1h-5zM299 300h1v1h-1zM300 299h2v1h-2zM302 298h3v1h-3zM305 297h12v1h-12zM317 298h2v1h-2zM319 297h2v1h-2zM321 296h1v1h-1zM322 295h1v2h-1zM323 294h1v1h-1zM324 293h1v1h-1zM325 291h1v2h-1zM326 290h1v1h-1zM327 288h1v2h-1zM328 286h1v2h-1zM329 284h1v2h-1zM330 283h1v1h-1zM331 282h1v1h-1zM332 281h1v1h-1zM333 279h1v2h-1zM334 278h1v1h-1zM335 276h1v2h-1zM336 275h1v1h-1zM337 273h1v2h-1zM338 272h1v1h-1zM339 270h1v2h-1zM340 269h1v1h-1zM341 268h1v1h-1zM342 267h1v1h-1zM343 265h1v2h-1zM344 264h1v1h-1zM345 262h1v2h-1zM346 261h1v1h-1zM347 260h1v1h-1zM348 258h1v2h-1zM349 257h1v1h-1zM350 256h2v1h-2zM352 255h4v1h-4zM356 256h8v1h-8zM364 255h3v1h-3zM367 254h1v1h-1zM368 253h1v1h-1zM369 252h1v1h-1zM370 251h1v1h-1zM371 249h1v2h-1zM372 248h1v1h-1zM373 247h1v1h-1zM374 246h2v1h-2zM376 245h2v1h-2zM378 244h4v1h-4zM382 243h3v1h-3zM385 242h3v1h-3zM388 241h2v1h-2zM390 240h2v1h-2zM392 239h2v1h-2zM394 238h1v1h-1zM395 237h2v1h-2zM397 236h1v1h-1zM398 235h1v1h-1zM399 234h1v1h-1zM400 233h1v1h-1zM401 232h1v1h-1zM402 231h1v1h-1zM403 230h1v1h-1zM404 229h1v1h-1zM405 228h1v1h-1zM406 226h1v2h-1zM407 224h1v2h-1zM408 222h1v2h-1zM409 220h1v2h-1zM410 218h1v2h-1zM411 216h1v2h-1zM412 214h1v2h-1zM413 212h1v2h-1zM414 210h1v2h-1zM415 208h1v2h-1zM416 206h1v2h-1zM417 204h1v2h-1zM418 202h1v2h-1zM419 200h1v2h-1zM420 198h1v2h-1zM421 196h1v2h-1zM422 194h1v2h-1zM423 193h1v1h-1zM424 191h1v2h-1zM425 190h1v1h-1zM426 188h1v2h-1zM427 186h1v2h-1zM428 184h1v2h-1zM429 182h1v2h-1zM430 181h1v1h-1zM431 179h1v2h-1zM432 178h1v1h-1zM433 176h1v2h-1zM434 175h1v1h-1zM435 174h1v1h-1zM436 172h1v2h-1zM437 171h1v1h-1zM438 170h2v1h-2zM440 169h3v1h-3zM443 168h2v1h-2zM445 167h2v1h-2zM447 166h3v1h-3zM450 165h1v1h-1zM451 166h4v1h-4zM455 167h2v1h-2zM457 168h2v1h-2zM459 169h1v1h-1zM460 170h1v1h-1zM461 171h1v1h-1zM462 172h1v2h-1zM463 174h1v1h-1zM464 175h1v2h-1zM465 177h1v1h-1zM466 178h1v2h-1zM467 180h1v1h-1zM468 181h1v1h-1zM469 182h1v1h-1zM470 183h1v1h-1zM471 184h2v1h-2zM473 185h2v1h-2zM475 186h2v1h-2zM477 187h3v1h-3zM480 188h2v1h-2zM482 189h2v1h-2zM484 190h1v1h-1zM485 191h2v1h-2zM487 192h1v1h-1zM488 193h2v1h-2zM490 194h2v1h-2zM492 195h1v1h-1zM493 196h3v1h-3zM496 195h2v1h-2zM498 194h7v1h-7zM505 193h2v1h-2zM507 192h2v1h-2zM509 191h2v1h-2zM511 190h2v1h-2zM513 189h2v1h-2zM515 188h2v1h-2zM517 187h1v1h-1zM518 186h1v2h-1zM519 185h1v1h-1zM520 184h1v1h-1zM521 183h1v1h-1zM522 182h1v1h-1zM523 181h1v1h-1zM524 180h2v1h-2zM526 179h1v1h-1zM527 180h2v1h-2zM529 181h2v1h-2zM531 182h1v1h-1zM532 183h1v1h-1zM533 184h1v1h-1zM534 184h1v3h-1zM535 187h1v2h-1zM536 189h1v2h-1zM537 191h1v3h-1zM538 194h1v1h-1zM539 195h1v2h-1zM540 197h1v2h-1zM541 199h1v2h-1zM542 201h1v1h-1zM543 202h1v1h-1zM544 203h1v2h-1zM545 205h1v1h-1zM546 206h1v1h-1zM547 207h1v1h-1zM548 208h1v1h-1zM549 209h1v1h-1zM550 210h2v1h-2zM552 211h1v1h-1zM553 212h1v1h-1zM554 213h2v1h-2zM556 214h2v1h-2zM558 215h2v1h-2zM560 216h2v1h-2zM562 217h2v1h-2zM564 218h3v1h-3zM567 219h2v1h-2zM569 220h2v1h-2zM571 219h1v1h-1zM572 218h2v1h-2zM574 217h1v1h-1zM575 216h1v1h-1zM576 215h1v1h-1zM577 214h2v1h-2zM579 212h1v2h-1zM580 211h1v1h-1zM581 210h1v1h-1zM582 209h1v1h-1zM583 208h1v1h-1zM584 207h1v1h-1zM585 206h1v1h-1zM586 204h1v2h-1zM587 203h1v1h-1zM588 202h1v1h-1zM589 200h1v2h-1zM590 198h1v2h-1zM591 195h1v3h-1zM592 193h1v2h-1zM593 190h1v3h-1zM594 188h1v2h-1zM595 186h1v2h-1zM596 184h1v2h-1zM597 182h1v2h-1zM598 181h1v1h-1zM599 179h1v2h-1zM600 177h1v2h-1zM601 176h1v1h-1zM602 173h1v3h-1zM603 171h1v2h-1zM604 169h1v2h-1zM605 167h1v2h-1zM606 165h1v2h-1zM607 163h1v2h-1zM608 161h1v2h-1zM609 159h1v2h-1zM610 157h1v2h-1zM611 155h1v2h-1zM612 153h1v2h-1zM613 151h1v2h-1zM614 149h1v2h-1zM615 148h1v1h-1zM616 146h1v2h-1zM617 144h1v2h-1zM618 142h1v2h-1zM619 140h1v2h-1zM620 139h1v1h-1zM621 137h1v2h-1zM622 135h1v2h-1zM623 133h1v2h-1zM624 131h1v2h-1zM625 129h1v2h-1zM626 128h1v1h-1zM627 127h1v1h-1zM628 126h1v1h-1zM629 125h2v1h-2zM631 123h1v2h-1zM632 122h1v1h-1zM633 121h1v1h-1zM634 120h2v1h-2zM636 119h1v1h-1zM637 118h2v1h-2zM639 117h1v1h-1zM640 116h1v1h-1zM641 115h2v1h-2zM643 114h2v1h-2zM645 113h2v1h-2zM647 112h2v1h-2zM649 111h4v1h-4zM653 110h2v1h-2zM655 109h1v1h-1zM656 107h1v2h-1zM657 106h1v1h-1zM658 105h1v1h-1zM659 106h2v1h-2zM661 107h1v1h-1zM662 108h2v1h-2zM664 109h2v1h-2zM666 110h1v1h-1zM667 111h1v1h-1zM668 112h1v2h-1zM669 114h1v1h-1zM670 115h1v1h-1zM671 116h2v1h-2zM673 117h1v1h-1zM674 118h1v1h-1zM675 119h1v1h-1zM676 120h1v1h-1zM677 121h1v2h-1zM678 123h1v1h-1zM679 124h2v1h-2zM681 125h1v1h-1zM682 126h1v2h-1zM683 128h1v1h-1zM684 129h1v1h-1zM685 130h1v1h-1zM686 131h1v2h-1zM687 133h1v1h-1zM688 134h1v1h-1zM689 135h1v1h-1zM690 136h1v2h-1zM691 138h1v1h-1zM692 139h1v1h-1zM693 140h1v1h-1zM694 141h1v1h-1zM695 142h2v1h-2zM697 143h1v1h-1zM698 144h1v1h-1zM699 145h2v1h-2zM701 146h1v1h-1zM702 147h1v1h-1zM703 146h3v1h-3zM706 145h1v2h-1zM707 147h1v1h-1zM708 148h1v1h-1zM709 149h1v1h-1zM710 150h1v2h-1zM711 152h1v2h-1zM712 154h1v2h-1zM713 156h1v2h-1zM714 158h1v2h-1zM715 160h1v2h-1zM716 162h1v2h-1zM717 164h1v2h-1zM718 166h1v2h-1zM719 168h1v2h-1zM720 170h1v2h-1zM721 172h1v2h-1zM722 174h1v1h-1zM723 175h1v1h-1zM724 176h1v1h-1zM725 177h1v1h-1zM726 178h1v3h-1zM727 181h1v2h-1zM728 183h1v3h-1zM729 186h1v2h-1zM730 188h1v3h-1zM731 191h1v2h-1zM732 193h1v3h-1zM733 196h1v2h-1zM734 198h1v3h-1zM735 201h1v4h-1zM736 205h1v3h-1zM737 208h1v3h-1zM738 211h1v3h-1zM739 214h1v3h-1zM740 217h1v3h-1zM741 220h1v3h-1zM742 223h1v4h-1zM743 227h1v3h-1zM744 230h1v4h-1zM745 234h1v3h-1zM746 237h1v4h-1zM747 241h1v3h-1zM748 244h1v3h-1zM749 247h1v4h-1zM750 251h1v3h-1zM751 254h1v4h-1zM752 258h1v3h-1zM753 261h1v4h-1zM754 265h1v3h-1zM755 268h1v3h-1zM756 271h1v3h-1zM757 274h1v4h-1zM758 278h1v3h-1zM759 281h1v4h-1zM760 285h1v4h-1zM761 289h1v3h-1zM762 292h1v2h-1zM763 294h1v2h-1zM764 296h1v2h-1zM765 298h1v2h-1zM766 300h1v2h-1zM767 302h1v2h-1zM768 304h1v2h-1zM769 306h1v2h-1zM770 308h1v1h-1zM771 309h1v2h-1zM772 311h1v1h-1zM773 312h1v2h-1zM774 314h1v1h-1zM775 315h1v1h-1zM776 316h1v1h-1zM777 317h1v1h-1zM778 318h1v2h-1zM779 320h1v1h-1zM780 321h1v1h-1zM781 322h1v1h-1zM782 323h1v1h-1zM783 324h3v1h-3zM786 325h2v1h-2zM788 326h12v1h-12zM800 325h3v1h-3zM803 324h1v1h-1zM804 323h2v1h-2zM806 322h2v1h-2zM808 321h2v1h-2zM810 320h4v1h-4zM814 319h8v1h-8zM822 320h1v1h-1zM823 319h1v1h-1zM824 318h2v1h-2zM826 317h1v1h-1zM827 316h2v1h-2zM829 315h1v1h-1zM830 314h1v1h-1zM831 313h2v1h-2zM833 312h2v1h-2zM835 311h2v1h-2zM837 310h2v1h-2zM839 309h1v1h-1zM840 308h1v1h-1zM841 307h1v1h-1zM842 306h2v1h-2zM844 305h2v1h-2zM846 304h1v1h-1zM847 303h1v1h-1zM848 302h2v1h-2zM850 301h1v1h-1zM851 299h1v2h-1zM852 298h1v1h-1zM853 297h1v1h-1zM854 296h1v1h-1zM855 294h1v2h-1zM856 293h1v1h-1zM857 292h1v1h-1zM858 291h1v1h-1zM859 290h1v1h-1zM860 289h1v1h-1zM861 288h1v1h-1zM862 287h1v1h-1zM863 286h1v1h-1zM864 285h1v1h-1zM865 284h1v1h-1zM866 283h1v1h-1zM867 281h1v2h-1zM868 280h1v1h-1zM869 279h1v1h-1zM870 278h1v1h-1zM871 276h1v2h-1zM872 275h1v1h-1zM873 273h1v2h-1zM874 272h1v1h-1zM875 270h1v2h-1zM876 269h1v1h-1zM877 268h1v1h-1zM878 267h1v1h-1zM879 266h2v1h-2zM881 265h2v1h-2zM883 264h3v1h-3zM886 263h3v1h-3zM889 262h2v1h-2zM891 261h3v1h-3zM894 260h6v1h-6zM900 259h2v1h-2zM902 258h1v1h-1zM903 257h1v1h-1zM904 256h1v1h-1zM905 255h1v1h-1zM906 254h1v2h-1zM907 256h1v1h-1zM908 257h1v2h-1zM909 259h1v1h-1zM910 260h1v2h-1zM911 262h1v1h-1zM912 263h1v2h-1zM913 265h1v1h-1zM914 266h1v2h-1zM915 268h1v2h-1zM916 270h1v1h-1zM917 271h1v2h-1zM918 273h2v1h-2zM920 274h1v1h-1zM921 275h2v1h-2zM923 276h2v1h-2zM925 277h1v1h-1zM926 278h1v1h-1zM927 279h1v1h-1zM928 280h1v1h-1zM929 281h1v1h-1zM930 282h1v1h-1zM931 283h2v1h-2zM933 284h1v1h-1zM934 285h1v1h-1zM935 286h1v1h-1zM936 287h1v1h-1zM937 288h2v1h-2zM939 289h2v1h-2zM941 290h2v1h-2zM943 291h2v1h-2zM945 292h1v1h-1zM946 293h1v1h-1zM947 292h7v1h-7zM954 291h5v1h-5zM959 292h2v1h-2zM961 293h1v1h-1zM962 293h1v2h-1zM963 292h1v1h-1zM964 291h1v1h-1zM965 290h1v1h-1zM966 288h1v2h-1zM967 287h1v1h-1zM968 285h1v2h-1zM969 283h1v2h-1zM970 282h1v1h-1zM971 281h1v1h-1zM972 280h1v1h-1zM973 279h1v1h-1zM974 278h1v1h-1zM975 277h2v1h-2zM977 276h2v1h-2zM979 275h1v1h-1zM980 274h2v1h-2zM982 273h2v1h-2zM984 272h6v1h-6zM990 273h3v1h-3zM993 274h3v1h-3zM996 275h8v1h-8zM1004 276h2v1h-2zM1006 277h12v1h-12zM1018 276h2v1h-2zM1020 275h2v1h-2zM1022 274h2v1h-2zM1024 275h9v1h-9zM1033 276h2v1h-2z" fill="#ff0000" shape-rendering="crispEdges"/>
<path d="M1 387h1v2h-1zM2 386h1v1h-1zM3 385h1v1h-1zM4 384h1v1h-1zM5 383h1v1h-1zM6 382h1v1h-1zM7 380h1v2h-1zM8 379h1v1h-1zM9 377h1v2h-1zM10 376h1v1h-1zM11 375h1v1h-1zM12 373h1v2h-1zM13 372h1v1h-1zM14 370h1v2h-1zM15 368h1v2h-1zM16 366h1v2h-1zM17 365h1v1h-1zM18 363h1v2h-1zM19 362h2v1h-2zM21 361h1v1h-1zM22 360h1v1h-1zM23 359h2v1h-2zM25 358h1v1h-1zM26 357h1v1h-1zM27 356h2v1h-2zM29 355h1v1h-1zM30 354h1v1h-1zM31 353h1v1h-1zM32 352h2v1h-2zM34 351h1v1h-1zM35 350h1v1h-1zM36 349h1v1h-1zM37 348h8v1h-8zM45 349h7v1h-7zM52 350h10v1h-10zM62 349h3v1h-3zM65 350h1v1h-1zM66 351h2v1h-2zM68 352h2v1h-2zM70 353h1v1h-1zM71 354h1v1h-1zM72 355h2v1h-2zM74 356h1v1h-1zM75 357h1v1h-1zM76 358h1v1h-1zM77 359h1v1h-1zM78 360h2v1h-2zM80 361h2v1h-2zM82 362h2v1h-2zM84 363h2v1h-2zM86 364h4v1h-4zM90 363h1v1h-1zM91 364h1v1h-1zM92 365h2v1h-2zM94 366h2v1h-2zM96 367h1v1h-1zM97 368h2v1h-2zM99 369h2v1h-2zM101 370h4v1h-4zM105 371h8v1h-8zM113 372h3v1h-3zM116 373h1v1h-1zM117 374h2v1h-2zM119 375h1v1h-1zM120 376h2v1h-2zM122 377h2v1h-2zM124 378h2v1h-2zM126 379h1v1h-1zM127 380h1v1h-1zM128 381h1v1h-1zM129 382h1v1h-1zM130 383h1v1h-1zM131 384h2v1h-2zM133 385h2v1h-2zM135 386h1v1h-1zM136 387h2v1h-2zM138 388h1v1h-1zM139 389h1v1h-1zM140 390h1v1h-1zM141 391h1v1h-1zM142 392h1v1h-1zM143 393h2v1h-2zM145 394h1v1h-1zM146 395h3v1h-3zM149 396h3v1h-3zM152 397h2v1h-2zM154 398h1v1h-1zM155 397h2v1h-2zM157 396h2v1h-2zM159 395h2v1h-2zM161 394h4v1h-4zM165 393h4v1h-4zM169 392h5v1h-5zM174 393h1v1h-1zM175 392h2v1h-2zM177 391h2v1h-2zM179 390h2v1h-2zM181 389h2v1h-2zM183 388h2v1h-2zM185 387h2v1h-2zM187 386h2v1h-2zM189 385h1v1h-1zM190 384h3v1h-3zM193 383h2v1h-2zM195 382h2v1h-2zM197 381h1v1h-1zM198 380h3v1h-3zM201 379h2v1h-2zM203 378h1v1h-1zM204 377h1v1h-1zM205 376h1v1h-1zM206 375h2v1h-2zM208 374h1v1h-1zM209 373h1v1h-1zM210 372h1v2h-1zM211 370h1v2h-1zM212 368h1v2h-1zM213 366h1v2h-1zM214 364h1v2h-1zM215 363h1v1h-1zM216 361h1v2h-1zM217 360h1v1h-1zM218 358h1v2h-1zM219 356h1v2h-1zM220 355h1v1h-1zM221 353h1v2h-1zM222 352h1v1h-1zM223 350h1v2h-1zM224 349h1v1h-1zM225 348h1v1h-1zM226 346h1v2h-1zM227 345h1v1h-1zM228 343h1v2h-1zM229 342h1v1h-1zM230 341h1v1h-1zM231 339h1v2h-1zM232 338h1v1h-1zM233 337h1v1h-1zM234 335h1v2h-1zM235 334h1v1h-1zM236 332h1v2h-1zM237 331h1v1h-1zM238 330h1v1h-1zM239 328h1v2h-1zM240 327h1v1h-1zM241 326h1v1h-1zM242 324h1v2h-1zM243 323h1v1h-1zM244 322h1v1h-1zM245 321h1v1h-1zM246 320h1v1h-1zM247 318h1v2h-1zM248 317h1v1h-1zM249 316h1v1h-1zM250 315h1v1h-1zM251 314h1v1h-1zM252 313h1v1h-1zM253 312h1v1h-1zM254 311h1v1h-1zM255 310h1v1h-1zM256 309h1v1h-1zM257 308h1v1h-1zM258 307h2v1h-2zM260 306h1v1h-1zM261 305h2v1h-2zM263 304h1v1h-1zM264 303h2v1h-2zM266 302h1v1h-1zM267 301h2v1h-2zM269 300h1v1h-1zM270 299h1v1h-1zM271 300h10v1h-10zM281 301h2v1h-2zM283 300h2v1h-2zM285 299h8v1h-8zM293 298h6v1h-6zM299 297h4v1h-4zM303 296h3v1h-3zM306 295h3v1h-3zM309 294h9v1h-9zM318 295h1v1h-1zM319 294h4v1h-4zM323 293h1v1h-1zM324 292h1v1h-1zM325 291h2v1h-2zM327 290h1v1h-1zM328 289h1v1h-1zM329 288h1v1h-1zM330 287h2v1h-2zM332 286h3v1h-3zM335 285h1v1h-1zM336 284h2v1h-2zM338 283h2v1h-2zM340 282h1v1h-1zM341 281h2v1h-2zM343 280h1v1h-1zM344 279h1v1h-1zM345 278h1v1h-1zM346 277h2v1h-2zM348 276h1v1h-1zM349 275h1v1h-1zM350 274h4v1h-4zM354 273h2v1h-2zM356 272h2v1h-2zM358 271h2v1h-2zM360 270h1v1h-1zM361 269h2v1h-2zM363 268h1v1h-1zM364 267h2v1h-2zM366 266h1v1h-1zM367 265h1v1h-1zM368 264h1v1h-1zM369 263h2v1h-2zM371 262h1v1h-1zM372 261h1v1h-1zM373 260h2v1h-2zM375 259h1v1h-1zM376 258h1v1h-1zM377 257h1v1h-1zM378 256h1v1h-1zM379 255h1v1h-1zM380 254h1v1h-1zM381 253h2v1h-2zM383 252h1v1h-1zM384 251h2v1h-2zM386 250h1v1h-1zM387 249h2v1h-2zM389 248h2v1h-2zM391 247h1v1h-1zM392 246h1v1h-1zM393 245h1v1h-1zM394 244h1v1h-1zM395 243h1v1h-1zM396 241h1v2h-1zM397 240h1v1h-1zM398 239h1v1h-1zM399 237h1v2h-1zM400 236h1v1h-1zM401 234h1v2h-1zM402 233h1v1h-1zM403 232h1v1h-1zM404 231h1v1h-1zM405 230h1v1h-1zM406 229h1v1h-1zM407 228h1v1h-1zM408 227h2v1h-2zM410 226h1v1h-1zM411 225h1v1h-1zM412 224h2v1h-2zM414 223h1v1h-1zM415 222h1v1h-1zM416 221h1v1h-1zM417 220h1v1h-1zM418 219h1v1h-1zM419 218h1v1h-1zM420 217h1v1h-1zM421 215h1v2h-1zM422 214h1v1h-1zM423 213h2v1h-2zM425 212h1v1h-1zM426 211h1v1h-1zM427 209h1v2h-1zM428 208h1v1h-1zM429 207h1v1h-1zM430 206h1v1h-1zM431 205h1v1h-1zM432 204h1v1h-1zM433 203h1v1h-1zM434 202h1v1h-1zM435 200h1v2h-1zM436 199h1v1h-1zM437 197h1v2h-1zM438 196h1v1h-1zM439 195h1v1h-1zM440 194h1v1h-1zM441 192h1v2h-1zM442 191h2v1h-2zM444 190h1v1h-1zM445 189h1v1h-1zM446 188h1v1h-1zM447 187h1v1h-1zM448 186h1v1h-1zM449 185h1v1h-1zM450 184h3v1h-3zM453 183h3v1h-3zM456 182h2v1h-2zM458 181h6v1h-6zM464 182h3v1h-3zM467 183h3v1h-3zM470 184h1v1h-1zM471 183h3v1h-3zM474 182h2v1h-2zM476 181h2v1h-2zM478 180h4v1h-4zM482 179h3v1h-3zM485 180h9v1h-9zM494 181h7v1h-7zM501 182h4v1h-4zM505 183h3v1h-3zM508 184h3v1h-3zM511 185h2v1h-2zM513 186h2v1h-2zM515 187h2v1h-2zM517 188h2v1h-2zM519 189h2v1h-2zM521 190h6v1h-6zM527 191h2v1h-2zM529 192h3v1h-3zM532 193h3v1h-3zM535 194h1v1h-1zM536 195h1v2h-1zM537 197h1v1h-1zM538 198h1v1h-1zM539 199h2v1h-2zM541 200h1v1h-1zM542 201h2v1h-2zM544 202h7v1h-7zM551 201h3v1h-3zM554 200h1v1h-1zM555 201h4v1h-4zM559 202h2v1h-2zM561 203h3v1h-3zM564 204h4v1h-4zM568 205h5v1h-5zM573 204h2v1h-2zM575 203h2v1h-2zM577 202h2v1h-2zM579 201h3v1h-3zM582 200h3v1h-3zM585 199h2v1h-2zM587 198h3v1h-3zM590 197h6v1h-6zM596 196h4v1h-4zM600 195h2v1h-2zM602 194h2v1h-2zM604 193h1v1h-1zM605 192h1v1h-1zM606 191h1v1h-1zM607 189h1v2h-1zM608 188h1v1h-1zM609 187h1v1h-1zM610 186h1v1h-1zM611 184h1v2h-1zM612 183h1v1h-1zM613 182h1v1h-1zM614 180h1v2h-1zM615 179h1v1h-1zM616 178h1v1h-1zM617 177h1v1h-1zM618 174h1v3h-1zM619 171h1v3h-1zM620 169h1v2h-1zM621 166h1v3h-1zM622 164h1v2h-1zM623 162h1v2h-1zM624 160h1v2h-1zM625 158h1v2h-1zM626 156h1v2h-1zM627 154h1v2h-1zM628 152h1v2h-1zM629 151h1v1h-1zM630 149h1v2h-1zM631 147h1v2h-1zM632 145h1v2h-1zM633 143h1v2h-1zM634 142h1v1h-1zM635 141h1v1h-1zM636 139h1v2h-1zM637 138h1v1h-1zM638 137h1v1h-1zM639 136h1v1h-1zM640 134h1v2h-1zM641 133h1v1h-1zM642 132h1v1h-1zM643 131h1v1h-1zM644 130h1v1h-1zM645 129h1v1h-1zM646 128h1v1h-1zM647 127h2v1h-2zM649 126h1v1h-1zM650 125h2v1h-2zM652 124h1v1h-1zM653 123h2v1h-2zM655 122h1v1h-1zM656 121h2v1h-2zM658 120h10v1h-10zM668 121h13v1h-13zM681 120h4v1h-4zM685 121h3v1h-3zM688 122h2v1h-2zM690 123h1v1h-1zM691 124h2v1h-2zM693 125h1v1h-1zM694 126h2v1h-2zM696 127h1v1h-1zM697 128h2v1h-2zM699 129h2v1h-2zM701 130h2v1h-2zM703 131h3v1h-3zM706 132h1v1h-1zM707 133h1v2h-1zM708 135h1v1h-1zM709 136h1v1h-1zM710 137h1v2h-1zM711 139h1v1h-1zM712 140h1v1h-1zM713 141h1v2h-1zM714 143h1v1h-1zM715 144h1v2h-1zM716 146h1v2h-1zM717 148h1v2h-1zM718 150h1v2h-1zM719 152h1v2h-1zM720 154h1v2h-1zM721 156h1v1h-1zM722 157h1v2h-1zM723 159h1v1h-1zM724 160h1v2h-1zM725 162h1v2h-1zM726 164h1v2h-1zM727 166h1v2h-1zM728 168h1v2h-1zM729 170h1v2h-1zM730 172h1v1h-1zM731 173h1v2h-1zM732 175h1v2h-1zM733 177h1v2h-1zM734 179h1v2h-1zM735 181h1v2h-1zM736 183h1v3h-1zM737 186h1v2h-1zM738 188h1v3h-1zM739 191h1v2h-1zM740 193h1v3h-1zM741 196h1v3h-1zM742 199h1v3h-1zM743 202h1v2h-1zM744 204h1v3h-1zM745 207h1v2h-1zM746 209h1v3h-1zM747 212h1v2h-1zM748 214h1v3h-1zM749 217h1v3h-1zM750 220h1v2h-1zM751 222h1v2h-1zM752 224h1v2h-1zM753 226h1v2h-1zM754 228h1v2h-1zM755 230h1v2h-1zM756 232h1v3h-1zM757 235h1v2h-1zM758 237h1v2h-1zM759 239h1v2h-1zM760 241h1v2h-1zM761 243h1v2h-1zM762 245h1v2h-1zM763 247h1v2h-1zM764 249h1v2h-1zM765 251h1v2h-1zM766 253h1v2h-1zM767 255h1v2h-1zM768 257h1v1h-1zM769 258h1v2h-1zM770 260h1v2h-1zM771 262h1v2h-1zM772 264h1v3h-1zM773 267h1v2h-1zM774 269h1v1h-1zM775 270h1v2h-1zM776 272h1v2h-1zM777 274h1v2h-1zM778 276h1v1h-1zM779 277h1v2h-1zM780 279h1v2h-1zM781 281h1v2h-1zM782 283h1v2h-1zM783 285h1v2h-1zM784 287h1v2h-1zM785 289h1v1h-1zM786 290h1v3h-1zM787 293h1v2h-1zM788 295h1v2h-1zM789 297h1v3h-1zM790 300h1v1h-1zM791 301h1v1h-1zM792 302h1v2h-1zM793 304h1v1h-1zM794 305h1v2h-1zM795 307h1v1h-1zM796 308h1v2h-1zM797 310h1v1h-1zM798 311h1v1h-1zM799 312h1v1h-1zM800 313h1v1h-1zM801 314h1v1h-1zM802 315h1v1h-1zM803 316h1v1h-1zM804 317h1v1h-1zM805 318h1v1h-1zM806 319h1v1h-1zM807 320h2v1h-2zM809 321h1v1h-1zM810 322h1v1h-1zM811 323h2v1h-2zM813 324h2v1h-2zM815 325h3v1h-3zM818 326h1v1h-1zM819 325h5v1h-5zM824 324h2v1h-2zM826 323h1v1h-1zM827 322h1v1h-1zM828 321h1v1h-1zM829 320h2v1h-2zM831 319h1v1h-1zM832 318h1v1h-1zM833 317h1v1h-1zM834 316h1v1h-1zM835 315h2v1h-2zM837 314h1v1h-1zM838 313h1v1h-1zM839 312h1v1h-1zM840 311h1v1h-1zM841 310h2v1h-2zM843 309h1v1h-1zM844 308h2v1h-2zM846 307h3v1h-3zM849 306h2v1h-2zM851 305h2v1h-2zM853 304h1v1h-1zM854 303h1v1h-1zM855 302h2v1h-2zM857 301h1v1h-1zM858 300h1v1h-1zM859 299h2v1h-2zM861 298h1v1h-1zM862 297h2v1h-2zM864 296h2v1h-2zM866 295h2v1h-2zM868 294h2v1h-2zM870 293h1v1h-1zM871 292h1v1h-1zM872 291h1v1h-1zM873 290h1v1h-1zM874 289h1v1h-1zM875 288h1v1h-1zM876 287h2v1h-2zM878 286h1v1h-1zM879 285h1v1h-1zM880 284h1v1h-1zM881 283h1v1h-1zM882 282h1v1h-1zM883 281h1v1h-1zM884 280h2v1h-2zM886 279h1v1h-1zM887 278h1v1h-1zM888 277h2v1h-2zM890 276h1v1h-1zM891 275h2v1h-2zM893 274h1v1h-1zM894 273h1v1h-1zM895 272h2v1h-2zM897 271h1v1h-1zM898 270h1v1h-1zM899 269h1v1h-1zM900 268h2v1h-2zM902 267h1v1h-1zM903 266h1v1h-1zM904 265h1v1h-1zM905 264h1v1h-1zM906 263h2v1h-2zM908 264h1v1h-1zM909 265h2v1h-2zM911 266h1v1h-1zM912 267h1v1h-1zM913 268h2v1h-2zM915 269h1v1h-1zM916 270h1v1h-1zM917 271h2v1h-2zM919 272h4v1h-4zM923 273h3v1h-3zM926 274h4v1h-4zM930 275h6v1h-6zM936 276h2v1h-2zM938 277h2v1h-2zM940 278h3v1h-3zM943 279h2v1h-2zM945 280h5v1h-5zM950 279h10v1h-10zM960 280h3v1h-3zM963 281h9v1h-9zM972 282h5v1h-5zM977 283h3v1h-3zM980 282h3v1h-3zM983 283h2v1h-2zM985 284h2v1h-2zM987 285h1v1h-1zM988 286h2v1h-2zM990 287h3v1h-3zM993 286h3v1h-3zM996 285h2v1h-2zM998 284h2v1h-2zM1000 283h1v1h-1zM1001 282h1v1h-1zM1002 281h4v1h-4zM1006 280h2v1h-2zM1008 279h2v1h-2zM1010 278h2v1h-2zM1012 277h2v1h-2zM1014 276h2v1h-2zM1016 275h3v1h-3zM1019 274h1v1h-1zM1020 273h2v1h-2zM1022 272h2v1h-2zM1024 271h4v1h-4zM1028 270h3v1h-3zM1031 271h2v1h-2zM1033 272h2v1h-2z" fill="#0000cd" shape-rendering="crispEdges"/>
<path d="M2 530h2v1h-2zM4 531h1v1h-1zM5 532h1v1h-1zM6 532h1v2h-1zM7 531h1v1h-1zM8 529h1v2h-1zM9 528h1v1h-1zM10 527h3v1h-3zM13 528h3v1h-3zM16 527h2v1h-2zM18 526h1v3h-1zM19 529h1v2h-1zM20 531h1v2h-1zM21 533h1v2h-1zM22 535h2v1h-2zM24 534h1v1h-1zM25 533h1v1h-1zM26 532h1v1h-1zM27 533h4v1h-4zM31 531h1v2h-1zM32 529h1v2h-1zM33 527h1v2h-1zM34 526h2v1h-2zM36 525h2v1h-2zM38 524h1v4h-1zM39 528h1v4h-1zM40 532h1v3h-1zM41 535h1v4h-1zM42 539h1v2h-1zM43 541h1v2h-1zM44 543h1v3h-1zM45 546h1v2h-1zM46 548h1v1h-1zM47 549h1v1h-1zM48 550h1v1h-1zM49 551h3v1h-3zM52 550h2v1h-2zM54 549h1v2h-1zM55 547h1v2h-1zM56 546h1v1h-1zM57 544h1v2h-1zM58 543h1v1h-1zM59 544h3v1h-3zM62 544h1v2h-1zM63 546h1v2h-1zM64 548h1v2h-1zM65 550h1v2h-1zM66 552h2v1h-2zM68 551h2v1h-2zM70 550h1v6h-1zM71 556h1v6h-1zM72 562h1v6h-1zM73 568h1v6h-1zM74 574h1v1h-1zM75 573h1v1h-1zM76 571h1v2h-1zM77 570h1v1h-1zM78 567h1v3h-1zM79 565h1v2h-1zM80 562h1v3h-1zM81 559h1v3h-1zM82 558h2v1h-2zM84 557h2v1h-2zM86 554h1v3h-1zM87 551h1v3h-1zM88 548h1v3h-1zM89 545h1v3h-1zM90 544h1v3h-1zM91 547h1v3h-1zM92 550h1v3h-1zM93 553h1v3h-1zM94 556h1v1h-1zM95 555h3v1h-3zM98 554h2v1h-2zM100 553h1v1h-1zM101 552h2v1h-2zM103 551h1v1h-1zM104 549h1v2h-1zM105 548h1v1h-1zM106 547h1v1h-1zM107 546h1v1h-1zM108 545h1v1h-1zM109 543h1v2h-1zM110 542h1v1h-1zM111 543h1v1h-1zM112 544h1v1h-1zM113 545h1v1h-1zM114 546h1v1h-1zM115 547h1v2h-1zM116 549h1v1h-1zM117 550h1v1h-1zM118 551h4v1h-4zM122 550h1v2h-1zM123 552h1v1h-1zM124 553h1v1h-1zM125 554h1v2h-1zM126 556h1v4h-1zM127 560h1v5h-1zM128 565h1v5h-1zM129 570h1v4h-1zM130 572h1v3h-1zM131 569h1v3h-1zM132 566h1v3h-1zM133 563h1v3h-1zM134 562h2v1h-2zM136 563h1v1h-1zM137 564h3v1h-3zM140 563h2v1h-2zM142 562h3v1h-3zM145 561h1v1h-1zM146 560h1v2h-1zM147 557h1v3h-1zM148 555h1v2h-1zM149 553h1v2h-1zM150 552h2v1h-2zM152 553h1v1h-1zM153 554h5v1h-5zM158 553h2v1h-2zM160 552h2v1h-2zM162 551h2v1h-2zM164 550h1v1h-1zM165 549h2v1h-2zM167 548h1v1h-1zM168 547h1v1h-1zM169 546h1v1h-1zM170 545h1v1h-1zM171 544h3v1h-3zM174 543h1v1h-1zM175 542h1v1h-1zM176 540h1v2h-1zM177 539h1v1h-1zM178 538h1v1h-1zM179 537h2v1h-2zM181 536h5v1h-5zM186 535h1v2h-1zM187 532h1v3h-1zM188 530h1v2h-1zM189 528h1v2h-1zM190 527h6v1h-6zM196 526h2v1h-2zM198 526h1v4h-1zM199 530h1v4h-1zM200 534h1v5h-1zM201 539h1v4h-1zM202 541h1v3h-1zM203 538h1v3h-1zM204 535h1v3h-1zM205 532h1v3h-1zM206 531h1v3h-1zM207 534h1v2h-1zM208 536h1v2h-1zM209 538h1v2h-1zM210 540h1v1h-1zM211 538h1v2h-1zM212 536h1v2h-1zM213 534h1v2h-1zM214 533h1v1h-1zM215 532h1v1h-1zM216 531h1v1h-1zM217 530h1v1h-1zM218 529h1v1h-1zM219 530h1v2h-1zM220 532h1v1h-1zM221 533h1v1h-1zM222 534h1v1h-1zM223 535h1v2h-1zM224 537h1v1h-1zM225 538h1v2h-1zM226 540h1v1h-1zM227 539h3v1h-3zM230 538h1v1h-1zM231 537h1v1h-1zM232 536h1v1h-1zM233 534h1v2h-1zM234 533h3v1h-3zM237 532h2v1h-2zM239 533h2v1h-2zM241 534h2v1h-2zM243 535h1v2h-1zM244 537h1v1h-1zM245 538h1v2h-1zM246 539h1v2h-1zM247 537h1v2h-1zM248 536h1v1h-1zM249 534h1v2h-1zM250 533h1v1h-1zM251 534h1v1h-1zM252 535h1v1h-1zM253 536h1v2h-1zM254 538h2v1h-2zM256 539h2v1h-2zM258 540h2v1h-2zM260 541h9v1h-9zM269 540h1v1h-1zM270 540h1v4h-1zM271 544h1v4h-1zM272 548h1v4h-1zM273 552h1v4h-1zM274 556h1v1h-1zM275 555h1v1h-1zM276 554h1v1h-1zM277 553h1v1h-1zM278 552h1v1h-1zM279 553h1v1h-1zM280 554h1v1h-1zM281 555h1v1h-1zM282 555h1v2h-1zM283 554h1v1h-1zM284 553h1v1h-1zM285 551h1v2h-1zM286 550h1v1h-1zM287 549h1v1h-1zM288 548h1v1h-1zM289 547h1v1h-1zM290 546h1v1h-1zM291 547h2v1h-2zM293 548h1v1h-1zM294 547h1v2h-1zM295 544h1v3h-1zM296 542h1v2h-1zM297 539h1v3h-1zM298 537h1v2h-1zM299 535h1v2h-1zM300 533h1v2h-1zM301 531h1v2h-1zM302 530h1v1h-1zM303 531h2v1h-2zM305 532h1v1h-1zM306 532h1v3h-1zM307 535h1v2h-1zM308 537h1v3h-1zM309 540h1v3h-1zM310 543h1v1h-1zM311 544h1v2h-1zM312 546h1v1h-1zM313 547h1v2h-1zM314 549h2v1h-2zM316 550h1v1h-1zM317 551h1v1h-1zM318 548h1v4h-1zM319 544h1v4h-1zM320 540h1v4h-1zM321 536h1v4h-1zM322 533h1v3h-1zM323 531h1v2h-1zM324 528h1v3h-1zM325 525h1v3h-1zM326 524h1v1h-1zM327 525h1v1h-1zM328 526h2v1h-2zM330 527h1v2h-1zM331 529h1v3h-1zM332 532h1v2h-1zM333 534h1v2h-1zM334 536h1v1h-1zM335 535h2v1h-2zM337 534h1v1h-1zM338 533h1v1h-1zM339 534h5v1h-5zM344 533h1v1h-1zM345 532h1v1h-1zM346 531h4v1h-4zM350 531h1v6h-1zM351 537h1v5h-1zM352 542h1v5h-1zM353 547h1v5h-1zM354 552h1v1h-1zM355 553h1v1h-1zM356 554h1v1h-1zM357 555h1v1h-1zM358 555h1v2h-1zM359 553h1v2h-1zM360 550h1v3h-1zM361 548h1v2h-1zM362 547h1v1h-1zM363 548h3v1h-3zM366 548h1v2h-1zM367 545h1v3h-1zM368 543h1v2h-1zM369 541h1v2h-1zM370 540h6v1h-6zM376 539h1v1h-1zM377 538h1v1h-1zM378 537h1v2h-1zM379 536h1v1h-1zM380 535h1v1h-1zM381 533h1v2h-1zM382 532h2v1h-2zM384 531h2v1h-2zM386 530h1v1h-1zM387 531h1v1h-1zM388 532h1v1h-1zM389 533h3v1h-3zM392 532h2v1h-2zM394 531h1v1h-1zM395 530h1v1h-1zM396 529h1v1h-1zM397 528h1v1h-1zM398 527h1v1h-1zM399 525h1v2h-1zM400 523h1v2h-1zM401 522h1v1h-1zM402 521h1v1h-1zM403 520h3v1h-3zM406 519h3v1h-3zM409 518h2v1h-2zM411 519h2v1h-2zM413 520h2v1h-2zM415 519h1v1h-1zM416 518h2v1h-2zM418 517h2v1h-2zM420 516h2v1h-2zM422 515h1v2h-1zM423 517h1v2h-1zM424 519h1v2h-1zM425 521h1v1h-1zM426 522h1v1h-1zM427 520h1v2h-1zM428 519h1v1h-1zM429 517h1v2h-1zM430 516h1v1h-1zM431 517h2v1h-2zM433 518h1v1h-1zM434 518h1v2h-1zM435 520h1v1h-1zM436 521h1v1h-1zM437 522h1v2h-1zM438 524h1v5h-1zM439 529h1v6h-1zM440 535h1v6h-1zM441 541h1v5h-1zM442 546h1v1h-1zM443 547h2v1h-2zM445 548h5v1h-5zM450 549h1v2h-1zM451 551h1v2h-1zM452 553h1v3h-1zM453 556h1v2h-1zM454 558h1v1h-1zM455 557h2v1h-2zM457 556h2v1h-2zM459 557h1v2h-1zM460 559h1v2h-1zM461 561h1v1h-1zM462 562h1v3h-1zM463 565h1v2h-1zM464 567h1v3h-1zM465 570h1v2h-1zM466 571h1v2h-1zM467 569h1v2h-1zM468 567h1v2h-1zM469 565h1v2h-1zM470 560h1v5h-1zM471 556h1v4h-1zM472 551h1v5h-1zM473 547h1v4h-1zM474 545h1v2h-1zM475 544h1v1h-1zM476 543h1v1h-1zM477 541h1v2h-1zM478 540h1v1h-1zM479 541h1v1h-1zM480 542h1v1h-1zM481 543h7v1h-7zM488 542h4v1h-4zM492 543h2v1h-2zM494 544h1v1h-1zM495 542h1v2h-1zM496 541h1v1h-1zM497 539h1v2h-1zM498 538h1v3h-1zM499 541h1v2h-1zM500 543h1v3h-1zM501 546h1v2h-1zM502 548h1v1h-1zM503 547h1v1h-1zM504 546h1v1h-1zM505 545h1v1h-1zM506 544h1v1h-1zM507 545h1v1h-1zM508 546h1v1h-1zM509 547h1v1h-1zM510 548h2v1h-2zM512 547h2v1h-2zM514 546h1v2h-1zM515 548h1v1h-1zM516 549h1v1h-1zM517 550h1v1h-1zM518 551h2v1h-2zM520 550h2v1h-2zM522 549h1v2h-1zM523 551h1v1h-1zM524 552h1v2h-1zM525 554h1v1h-1zM526 555h1v2h-1zM527 557h1v3h-1zM528 560h1v2h-1zM529 562h1v2h-1zM530 564h4v1h-4zM534 563h1v6h-1zM535 569h1v6h-1zM536 575h1v6h-1zM537 581h1v6h-1zM538 585h1v3h-1zM539 581h1v4h-1zM540 577h1v4h-1zM541 573h1v4h-1zM542 571h1v2h-1zM543 569h1v2h-1zM544 567h1v2h-1zM545 565h1v2h-1zM546 564h1v1h-1zM547 562h1v2h-1zM548 561h1v1h-1zM549 560h1v1h-1zM550 558h1v2h-1zM551 555h1v3h-1zM552 553h1v2h-1zM553 551h1v2h-1zM554 550h2v1h-2zM556 551h2v1h-2zM558 552h2v1h-2zM560 551h2v1h-2zM562 550h2v1h-2zM564 549h2v1h-2zM566 548h3v1h-3zM569 549h1v1h-1zM570 546h1v4h-1zM571 542h1v4h-1zM572 539h1v3h-1zM573 535h1v4h-1zM574 534h3v1h-3zM577 533h3v1h-3zM580 532h1v1h-1zM581 531h1v1h-1zM582 531h1v2h-1zM583 533h1v3h-1zM584 536h1v3h-1zM585 539h1v2h-1zM586 541h1v1h-1zM587 540h2v1h-2zM589 539h1v1h-1zM590 538h1v2h-1zM591 540h1v2h-1zM592 542h1v2h-1zM593 544h1v2h-1zM594 546h2v1h-2zM596 545h1v1h-1zM597 544h1v1h-1zM598 543h4v1h-4zM602 541h1v3h-1zM603 538h1v3h-1zM604 534h1v4h-1zM605 531h1v3h-1zM606 530h2v1h-2zM608 529h2v1h-2zM610 528h1v1h-1zM611 529h2v1h-2zM613 530h2v1h-2zM615 531h1v1h-1zM616 532h1v1h-1zM617 533h3v1h-3zM620 532h1v1h-1zM621 531h1v1h-1zM622 530h4v1h-4zM626 529h1v1h-1zM627 530h2v1h-2zM629 531h2v1h-2zM631 530h1v1h-1zM632 529h1v1h-1zM633 527h1v2h-1zM634 526h1v2h-1zM635 528h1v2h-1zM636 530h1v2h-1zM637 532h1v2h-1zM638 534h1v2h-1zM639 536h1v2h-1zM640 538h1v1h-1zM641 539h1v2h-1zM642 541h1v1h-1zM643 542h2v1h-2zM645 543h1v1h-1zM646 543h1v3h-1zM647 546h1v3h-1zM648 549h1v3h-1zM649 552h1v2h-1zM650 554h4v1h-4zM654 551h1v4h-1zM655 547h1v4h-1zM656 543h1v4h-1zM657 538h1v5h-1zM658 537h1v4h-1zM659 541h1v4h-1zM660 545h1v4h-1zM661 549h1v4h-1zM662 553h1v1h-1zM663 552h1v1h-1zM664 551h1v1h-1zM665 550h1v1h-1zM666 550h1v3h-1zM667 553h1v3h-1zM668 556h1v3h-1zM669 559h1v3h-1zM670 561h1v2h-1zM671 559h1v2h-1zM672 557h1v2h-1zM673 555h1v2h-1zM674 554h1v1h-1zM675 555h1v1h-1zM676 556h1v1h-1zM677 557h1v1h-1zM678 558h1v1h-1zM679 557h1v1h-1zM680 556h1v1h-1zM681 554h1v2h-1zM682 553h1v2h-1zM683 555h1v1h-1zM684 556h1v1h-1zM685 557h1v1h-1zM686 558h1v1h-1zM687 557h1v1h-1zM688 556h1v1h-1zM689 555h1v1h-1zM690 554h1v1h-1zM691 555h2v1h-2zM693 556h3v1h-3zM696 555h1v1h-1zM697 554h1v1h-1zM698 553h1v1h-1zM699 554h2v1h-2zM701 555h1v1h-1zM702 554h1v2h-1zM703 552h1v2h-1zM704 550h1v2h-1zM705 548h1v2h-1zM706 547h1v5h-1zM707 552h1v5h-1zM708 557h1v6h-1zM709 563h1v5h-1zM710 568h1v1h-1zM711 567h2v1h-2zM713 566h1v1h-1zM714 565h1v2h-1zM715 567h1v2h-1zM716 569h1v2h-1zM717 571h1v1h-1zM718 572h8v1h-8zM726 571h1v2h-1zM727 573h1v2h-1zM728 575h1v2h-1zM729 577h1v2h-1zM730 579h1v1h-1zM731 580h2v1h-2zM733 581h1v1h-1zM734 582h2v1h-2zM736 583h1v1h-1zM737 584h1v1h-1zM738 585h1v1h-1zM739 586h3v1h-3zM742 587h2v1h-2zM744 588h1v1h-1zM745 589h4v1h-4zM749 588h3v1h-3zM752 587h1v1h-1zM753 586h2v1h-2zM755 585h2v1h-2zM757 584h1v1h-1zM758 583h2v1h-2zM760 582h2v1h-2zM762 580h1v2h-1zM763 578h1v2h-1zM764 576h1v2h-1zM765 574h1v2h-1zM766 573h1v1h-1zM767 574h4v1h-4zM771 575h2v1h-2zM773 576h1v1h-1zM774 575h1v2h-1zM775 573h1v2h-1zM776 570h1v3h-1zM777 568h1v2h-1zM778 567h8v1h-8zM786 566h1v2h-1zM787 568h1v1h-1zM788 569h1v1h-1zM789 570h1v1h-1zM790 571h1v1h-1zM791 572h2v1h-2zM793 573h3v1h-3zM796 574h3v1h-3zM799 573h1v1h-1zM800 571h1v2h-1zM801 570h1v1h-1zM802 569h1v1h-1zM803 567h1v2h-1zM804 566h1v1h-1zM805 565h1v1h-1zM806 564h2v1h-2zM808 565h3v1h-3zM811 566h1v1h-1zM812 567h1v1h-1zM813 568h1v1h-1zM814 569h6v1h-6zM820 568h1v1h-1zM821 567h1v1h-1zM822 562h1v5h-1zM823 557h1v5h-1zM824 552h1v5h-1zM825 547h1v5h-1zM826 546h2v1h-2zM828 545h2v1h-2zM830 544h4v1h-4zM834 543h5v1h-5zM839 541h1v2h-1zM840 540h1v1h-1zM841 539h1v1h-1zM842 538h1v2h-1zM843 540h1v3h-1zM844 543h1v3h-1zM845 546h1v3h-1zM846 549h1v1h-1zM847 550h2v1h-2zM849 551h1v1h-1zM850 549h1v3h-1zM851 545h1v4h-1zM852 542h1v3h-1zM853 539h1v3h-1zM854 538h1v1h-1zM855 537h5v1h-5zM860 536h2v1h-2zM862 535h1v2h-1zM863 537h1v1h-1zM864 538h1v2h-1zM865 540h1v2h-1zM866 542h1v1h-1zM867 541h2v1h-2zM869 540h1v1h-1zM870 539h1v2h-1zM871 538h1v1h-1zM872 536h1v2h-1zM873 534h1v2h-1zM874 533h1v1h-1zM875 534h1v1h-1zM876 535h2v1h-2zM878 536h1v1h-1zM879 537h1v1h-1zM880 538h1v1h-1zM881 539h1v1h-1zM882 540h1v1h-1zM883 541h1v1h-1zM884 542h1v1h-1zM885 543h1v1h-1zM886 544h1v1h-1zM887 543h1v1h-1zM888 542h1v1h-1zM889 540h1v2h-1zM890 539h1v2h-1zM891 541h1v1h-1zM892 542h1v1h-1zM893 543h1v1h-1zM894 544h1v1h-1zM895 545h1v1h-1zM896 546h1v1h-1zM897 547h2v1h-2zM899 545h1v2h-1zM900 544h1v1h-1zM901 542h1v2h-1zM902 540h1v2h-1zM903 538h1v2h-1zM904 536h1v2h-1zM905 533h1v3h-1zM906 532h1v11h-1zM907 543h1v11h-1zM908 554h1v12h-1zM909 566h1v11h-1zM910 577h4v1h-4zM914 578h4v1h-4zM918 573h1v6h-1zM919 568h1v5h-1zM920 563h1v5h-1zM921 557h1v6h-1zM922 556h1v1h-1zM923 557h3v1h-3zM926 558h5v1h-5zM931 557h1v1h-1zM932 556h2v1h-2zM934 555h1v1h-1zM935 556h1v1h-1zM936 557h1v1h-1zM937 558h2v1h-2zM939 557h1v1h-1zM940 555h1v2h-1zM941 554h1v1h-1zM942 553h1v1h-1zM943 552h2v1h-2zM945 551h1v1h-1zM946 549h1v3h-1zM947 546h1v3h-1zM948 543h1v3h-1zM949 539h1v4h-1zM950 538h1v1h-1zM951 539h3v1h-3zM954 540h1v1h-1zM955 539h1v1h-1zM956 538h1v1h-1zM957 537h1v1h-1zM958 536h1v4h-1zM959 540h1v3h-1zM960 543h1v4h-1zM961 547h1v3h-1zM962 550h4v1h-4zM966 549h1v2h-1zM967 547h1v2h-1zM968 545h1v2h-1zM969 543h1v2h-1zM970 542h1v3h-1zM971 545h1v2h-1zM972 547h1v3h-1zM973 550h1v2h-1zM974 552h1v1h-1zM975 551h1v1h-1zM976 550h1v1h-1zM977 548h1v2h-1zM978 547h2v1h-2zM980 546h1v1h-1zM981 545h1v1h-1zM982 544h1v3h-1zM983 547h1v3h-1zM984 550h1v4h-1zM985 554h1v3h-1zM986 557h2v1h-2zM988 558h1v1h-1zM989 559h1v1h-1zM990 560h1v2h-1zM991 562h1v2h-1zM992 564h1v2h-1zM993 566h1v2h-1zM994 567h1v2h-1zM995 564h1v3h-1zM996 562h1v2h-1zM997 560h1v2h-1zM998 558h1v2h-1zM999 556h1v2h-1zM1000 554h1v2h-1zM1001 553h1v1h-1zM1002 552h1v1h-1zM1003 551h2v1h-2zM1005 550h1v1h-1zM1006 549h1v2h-1zM1007 547h1v2h-1zM1008 545h1v2h-1zM1009 543h1v2h-1zM1010 542h1v1h-1zM1011 541h3v1h-3zM1014 540h1v2h-1zM1015 542h1v2h-1zM1016 544h1v2h-1zM1017 546h1v2h-1zM1018 547h1v2h-1zM1019 545h1v2h-1zM1020 543h1v2h-1zM1021 541h1v2h-1zM1022 540h1v2h-1zM1023 542h1v2h-1zM1024 544h1v2h-1zM1025 546h1v2h-1zM1026 548h1v1h-1zM1027 549h1v1h-1zM1028 550h2v1h-2zM1030 551h1v1h-1zM1031 552h1v2h-1zM1032 554h1v1h-1zM1033 555h1v1h-1zM1034 556h1v1h-1z" fill="#1e90ff" shape-rendering="crispEdges"/>
<rect x="702" y="125" width="353" height="2" fill="#ff0000" />
<rect x="710" y="233" width="419" height="2" fill="#00ff00" />
<rect x="747" y="368" width="341" height="2" fill="#0000ff" />
</svg>
</body></html>
